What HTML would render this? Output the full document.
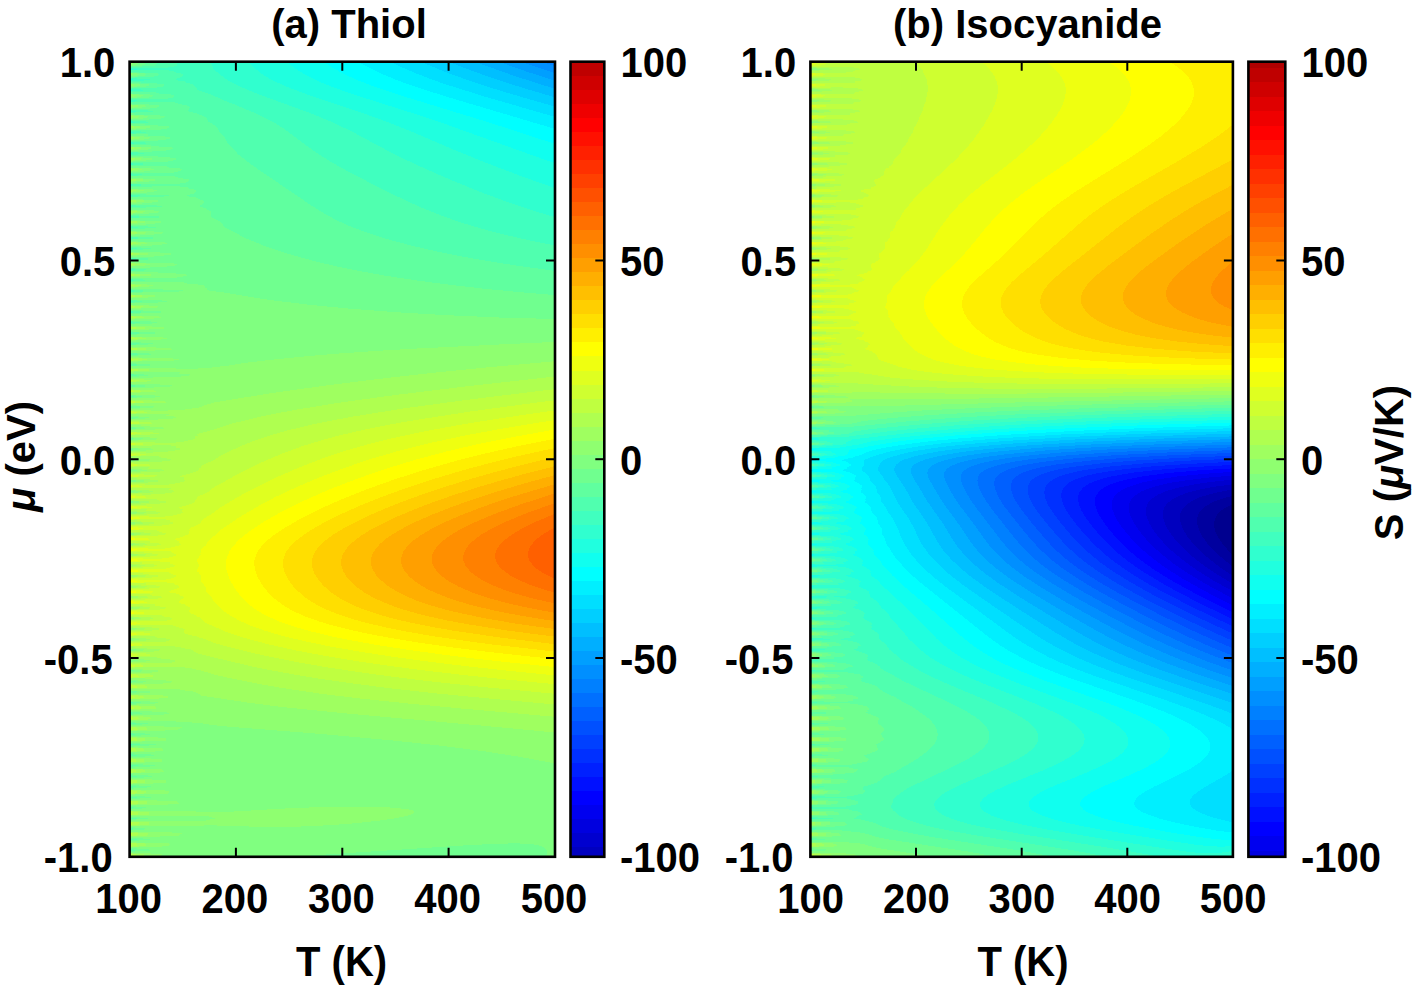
<!DOCTYPE html>
<html><head><meta charset="utf-8"><title>fig</title><style>html,body{margin:0;padding:0;background:#fff}svg{display:block}text{font-family:"Liberation Sans",sans-serif;font-weight:bold;fill:#000}</style></head><body>
<svg width="1419" height="991" viewBox="0 0 1419 991">
<rect width="1419" height="991" fill="#fff"/>
<g shape-rendering="crispEdges"><rect x="129.6" y="61.7" width="425.4" height="795.1" fill="#0080ff"/>
<path fill="#008fff" d="M129.6 61.7 541.5 61.7 555 66.2 555 856.8 129.6 856.8Z"/>
<path fill="#009fff" d="M129.6 61.7 520.9 61.7 555 73.2 555 856.8 129.6 856.8Z"/>
<path fill="#00afff" d="M129.6 61.7 498.6 61.7 527 71.7 555 80.8 555 856.8 129.6 856.8Z"/>
<path fill="#00bfff" d="M129.6 61.7 474.5 61.7 513.1 75.5 555 88.9 555 856.8 129.6 856.8Z"/>
<path fill="#00cfff" d="M129.6 61.7 448.5 61.7 471.1 70.5 495.1 79 521 87.3 555 97.4 555 856.8 129.6 856.8Z"/>
<path fill="#00dfff" d="M129.6 61.7 420.5 61.7 447.2 72.7 475.1 82.7 507.1 92.8 555 106.6 555 856.8 129.6 856.8Z"/>
<path fill="#00efff" d="M129.6 61.7 390.2 61.7 404.2 68.3 417.2 73.8 431.2 79.3 447.2 84.8 485.1 96.7 555 116.9 555 856.8 129.6 856.8Z"/>
<path fill="#00ffff" d="M129.6 61.7 357.8 61.7 371.3 68.9 384.1 74.9 399.2 81 415.2 86.7 447.2 96.9 555 128.9 555 856.8 129.6 856.8Z"/>
<path fill="#10ffef" d="M129.6 61.7 323.2 61.7 333.5 68.3 345.8 74.9 359.3 80.9 374.8 86.8 403.2 96.2 489.2 122.5 555 143.9 555 856.8 129.6 856.8Z"/>
<path fill="#20ffdf" d="M129.6 61.7 286.7 61.7 295.4 68.6 305.4 74.9 317.3 80.9 331.8 86.8 355.3 95 412.8 113.2 444.6 123.8 555 163.4 555 856.8 129.6 856.8Z"/>
<path fill="#30ffcf" d="M129.6 61.7 248.5 61.7 255.4 68.9 263.3 74.9 272.3 80.2 286.8 86.8 307.3 94.5 359.2 111.9 385.1 121.1 408.6 130.4 459.1 151.9 487.1 163.2 521 176.1 555 188.1 555 856.8 129.6 856.8Z"/>
<path fill="#40ffbf" d="M129.6 61.7 209.1 61.7 210.8 63 212.3 65.7 213.1 68.3 214.1 69.6 225.5 78.8 232.5 82.8 243.5 88.1 261.4 95.3 310.6 113.2 333 122.5 352.2 131.7 385.2 149.4 405.2 159.5 429.2 170.5 457.1 182.5 483.1 193 509.1 202.6 531 210 555 217.2 555 856.8 129.6 856.8 129.6 101.4 130.6 101.3 129.6 100.9 129.6 91 132.9 90.8 129.6 89.6 129.6 80.5 135.3 80.2 130.8 78.9 129.6 78.8 129.6 70 136.9 69.6 131.6 68.3 129.6 68.2Z"/>
<path fill="#50ffaf" d="M129.6 61.7 169 61.7 177.1 63 177.5 64.3 176.7 65.7 173.5 66.6 167.5 67.6 163.6 68 153.6 68.2 129.6 67.6ZM129.6 70.9 129.6 70.5 147.6 70.1 165.5 70.2 173.5 70.9 174.9 72.3 181.9 73.6 182.8 74.9 182.7 76.2 179.5 77.7 175.7 78.9 175.7 80.2 184.8 81.5 186.8 82.8 192.3 84.2 195.6 86.8 197.2 89.4 199.8 90.8 204.5 92.1 207.4 93.4 211.6 94.7 222.9 100 236.6 105.3 255.2 113.2 269 119.8 276.2 123.8 284.5 129.1 312.8 150.2 321.3 155.9 331.4 162.1 345.5 170 365.3 180.4 391.2 193.5 409.2 202.1 425.2 209.2 441.2 215.5 457.1 221.2 473.1 226.2 491.1 231.3 510.3 236 533 241.1 555 245.5 555 856.8 129.6 856.8 129.6 238.7 130.2 238.7 130.3 237.4 129.6 237.3 129.6 228.2 130.7 228.1 130.7 226.8 129.6 226.7 129.6 217.7 131 217.6 131 216.2 129.6 216.1 129.6 207.1 131.2 207 131.3 205.7 129.6 205.5 129.6 196.6 131.5 196.4 131.6 195.1 129.6 195 129.6 186 131.9 185.9 132 184.5 129.6 184.4 129.6 175.5 132.5 175.3 132.2 174 129.6 173.8 129.6 165 133.1 164.7 132.5 163.4 129.6 163.2 129.6 154.4 133.7 154.2 132.7 152.8 129.6 152.6 129.6 143.9 134.3 143.6 132.8 142.3 129.6 142 129.6 133.3 134.5 133 132.6 131.7 129.6 131.5 129.6 122.8 134.9 122.5 132.6 121.1 129.6 120.9 129.6 112.3 136.4 111.9 133.7 110.6 129.6 110.3 129.6 101.8 139.2 101.3 136 100 129.6 99.6 129.6 91.4 144.3 90.8 140.4 89.4 129.6 88.9 129.6 81 153.5 80.2 147 78.9 129.6 78.2Z"/>
<path fill="#60ff9f" d="M129.6 63 129.6 61.7 145.6 62.1 156.6 63 156.8 64.3 154.2 65.7 149.6 66.2 129.6 67ZM129.6 72.3 129.6 71.6 132.7 72.3 153.6 73 158.7 73.6 159.1 74.9 156.7 76.2 151.6 76.8 141.6 77.4 129.6 77.6ZM129.6 81.5 138.6 81.5 141.2 82.8 153.6 83.2 161.6 83.9 163.3 84.2 164.2 85.5 162.4 86.8 155.6 87.7 145.6 88.2 129.6 88.3ZM129.6 92.1 129.6 91.8 139.6 91.8 155.2 92.1 157.6 93.4 165.5 93.9 172.7 94.7 174.2 96 173.7 97.4 171.5 98 163.6 99.1 153.6 99.4 129.6 99.1ZM129.6 102.6 129.6 102.3 147.6 102 167.5 102 175.9 102.6 178.6 104 186.9 105.3 189 106.6 189.8 107.9 189.1 109.2 187.7 110.6 190.1 111.9 196.6 113.2 198.9 114.5 203.4 115.9 205.3 117.2 206.6 118.5 207.9 121.1 209.6 122.5 212.5 123.8 213.9 125.1 216.4 126.4 218.3 129.1 219.2 131.7 220.1 133 224.3 137 225.2 138.3 226.9 142.3 227.9 143.6 232.2 147.5 238.1 154.2 251.4 164.7 309.3 204.1 320 210.9 329.1 216.2 336.7 220.2 345.2 224.2 354.7 228.1 371.3 234.1 390.3 240 413.2 246 437.2 251.5 463.1 256.7 491.1 261.6 522.1 266.4 555 270.9 555 856.8 129.6 856.8 129.6 850.4 131.4 850.2 129.6 849.9 129.6 839.8 130.8 839.6 129.6 839.4 129.6 829.1 130.3 829.1 129.6 829 129.6 818.5 129.9 818.5 129.6 818.5 129.6 808 130.3 807.9 129.6 807.8 129.6 797.6 131 797.4 129.6 797.2 129.6 787 131.4 786.8 129.6 786.6 129.6 776.5 131.6 776.2 129.6 776 129.6 766 131.9 765.7 129.6 765.4 129.6 755.5 132 755.1 129.6 754.8 129.6 744.9 131.8 744.5 129.6 744.3 129.6 734.3 131.2 734 129.6 733.8 129.6 723.5 130.1 723.4 129.6 723.3 129.6 376.1 129.9 376 130 374.7 129.6 374.7 129.6 365.5 130.4 365.5 130.5 364.2 129.6 364.1 129.6 355 130.8 354.9 130.9 353.6 129.6 353.5 129.6 344.5 131.1 344.3 131.2 343 129.6 342.9 129.6 333.9 131.5 333.8 131.5 332.5 129.6 332.3 129.6 323.4 131.9 323.2 132 321.9 129.6 321.7 129.6 312.9 132.5 312.6 132.6 311.3 129.6 311.1 129.6 302.3 133.1 302.1 133.2 300.8 129.6 300.5 129.6 291.8 133.7 291.5 133.8 290.2 129.6 289.9 129.6 281.3 134.4 280.9 134.5 279.6 129.6 279.3 129.6 270.8 135.1 270.4 135.2 269.1 129.6 268.7 129.6 260.2 135.8 259.8 135.9 258.5 129.6 258.1 129.6 249.7 136.7 249.2 136.8 247.9 129.6 247.5 129.6 239.2 137.6 238.7 137.7 237.4 129.6 236.9 129.6 228.6 138.4 228.1 138.5 226.8 129.6 226.3 129.6 218.1 139 217.6 139.1 216.2 129.6 215.7 129.6 207.6 139.5 207 139.5 205.7 129.6 205.1 129.6 197 140 196.4 140.1 195.1 129.6 194.5 129.6 186.5 140.8 185.9 141 184.5 129.6 183.9 129.6 175.9 141.9 175.3 141.7 174 129.6 173.3 129.6 165.4 143.3 164.7 142.7 163.4 129.6 162.7 129.6 154.9 144.8 154.2 143.7 152.8 129.6 152.1 129.6 144.3 146.1 143.6 144.5 142.3 129.6 141.6 129.6 133.8 146.8 133 144.6 131.7 129.6 131 129.6 123.2 148 122.5 145.4 121.1 129.6 120.4 129.6 112.7 153.4 111.9 150.5 110.6 129.6 109.8Z"/>
<path fill="#70ff8f" d="M129.6 63 129.6 62.1 141.6 62.7 145.1 63 145.2 64.3 141.9 65.7 129.6 66.5ZM129.6 73.6 129.6 72.6 141.6 73.2 146.2 73.6 146.4 74.9 142.9 76.2 129.6 77.1ZM129.6 84.2 129.6 83.1 143.6 83.7 148.6 84.2 149 85.5 145.4 86.8 129.6 87.8ZM129.6 94.7 129.6 93.6 143.6 94 152.9 94.7 153.5 96 150 97.4 147.6 97.6 129.6 98.5ZM129.6 105.3 129.6 104 147.6 104.4 158.5 105.3 159.3 106.6 155.8 107.9 151.6 108.4 141.6 109 129.6 109.2ZM129.6 113.2 133.7 113.2 135.4 114.5 151.6 114.9 163.6 115.8 164.4 115.9 165 117.2 161.5 118.5 155.6 119.2 145.6 119.7 129.6 119.9ZM129.6 123.8 144.2 123.8 145 125.1 157.6 125.5 168.5 126.4 168.8 127.7 164.9 129.1 157.6 129.9 146.8 130.4 129.6 130.5ZM129.6 134.3 147.6 134.3 147.8 135.7 161.6 136.1 170.2 137 170.4 138.3 166.1 139.6 157.6 140.6 147.6 141 129.6 141.1ZM129.6 144.9 150.6 144.9 151.2 146.2 163.6 146.7 172.3 147.5 172.7 148.9 168.6 150.2 159.6 151.2 149.6 151.6 129.6 151.7ZM129.6 155.5 157.3 155.5 158.4 156.8 167.5 157.2 176.1 158.1 176.7 159.4 171.5 161.1 162.8 162.1 129.6 162.3ZM129.6 166 149.6 165.7 166.5 166 167.8 167.4 175.5 167.9 181.6 168.7 182.4 170 177.5 171.8 173 172.6 169.5 172.9 157.6 173.1 129.6 172.9ZM129.6 176.6 129.6 176.4 159.6 176.1 175.5 176.5 177 176.6 178.4 177.9 188.4 179.2 189.3 180.6 187.2 181.9 183.7 183.2 175.5 183.9 165.5 184 129.6 183.5ZM129.6 187.2 129.6 186.9 163.6 186.3 177.5 186.3 187.5 187.2 188.8 188.5 195.8 189.8 196.8 191.1 193.7 193.8 189.5 194.7 185.9 195.1 188.2 196.4 197.1 197.7 198.3 199.1 203.2 200.4 204.1 201.7 202.6 204.3 199.6 205.7 201 207 205.7 208.3 206.8 209.6 210.5 210.9 211.5 212.3 211.4 214.9 210.5 216.2 212 217.6 215.4 218.9 216.8 220.2 219.9 221.5 221.4 222.8 224.3 226.8 226.4 228.1 234.5 232.1 243.7 237.4 265.4 246.3 275.4 249.8 289.4 254.2 314.3 261.1 336.7 266.4 361.3 271.4 387.2 276 417.2 280.5 449.1 284.7 483.1 288.6 519.1 292.1 555 295.1 555 856.8 129.6 856.8 129.6 851 139 850.2 129.6 848.9 129.6 840.4 137.9 839.6 129.6 838.5 129.6 829.8 137.1 829.1 129.6 828.1 129.6 819.2 136.6 818.5 129.6 817.6 129.6 808.8 137.2 807.9 129.6 807 129.6 798.3 138.3 797.4 129.6 796.4 129.6 787.9 139 786.8 129.6 785.8 129.6 777.4 139.4 776.2 129.6 775.3 129.6 766.9 139.8 765.7 129.6 764.7 129.6 756.4 140 755.1 129.6 754.2 129.6 745.9 139.6 744.5 129.6 743.7 129.6 735.3 138.6 734 129.6 733.2 129.6 724.7 136.9 723.4 129.6 722.8 129.6 713.9 135.2 712.8 129.6 712.3 129.6 703.2 133.5 702.3 129.6 701.9 129.6 692.3 132 691.7 129.6 691.5 129.6 681.4 130.7 681.1 129.6 681 129.6 428.9 129.8 427.6 129.6 427.5 129.6 418.4 130.9 418.3 131.1 417 129.6 416.9 129.6 407.9 132.3 407.7 132.4 406.4 129.6 406.2 129.6 397.5 133.7 397.2 133.9 395.9 129.6 395.5 129.6 387 135.2 386.6 135.4 385.3 129.6 384.9 129.6 376.5 136.5 376 136.6 374.7 129.6 374.2 129.6 366 137.3 365.5 137.4 364.2 129.6 363.6 129.6 355.5 138 354.9 138.1 353.6 129.6 353 129.6 344.9 138.6 344.3 138.6 343 129.6 342.5 129.6 334.4 139.2 333.8 139.3 332.5 129.6 331.9 129.6 323.8 140 323.2 140.1 321.9 129.6 321.3 129.6 313.3 140.9 312.6 141.1 311.3 129.6 310.7 129.6 302.8 142.1 302.1 142.2 300.8 129.6 300 129.6 292.3 143.4 291.5 143.5 290.2 129.6 289.4 129.6 281.7 144.8 280.9 145 279.6 129.6 278.8 129.6 271.2 146.3 270.4 146.5 269.1 129.6 268.2 129.6 260.7 148.1 259.8 148.3 258.5 129.6 257.6 129.6 250.1 150.3 249.2 150.7 247.9 129.6 247 129.6 239.6 153 238.7 153.4 237.4 129.6 236.4 129.6 229.1 156 228.1 156.4 226.8 129.6 225.8 129.6 218.5 159.1 217.6 159.4 216.2 129.6 215.2 129.6 208 162.1 207 162.5 205.7 129.6 204.6 129.6 197.5 167.6 196.4 169 195.1 129.6 194.1Z"/>
<path fill="#80ff80" d="M129.6 63 129.6 62.4 137.7 63 137.8 64.3 134.1 65.7 129.6 66ZM129.6 73.6 129.6 73 138.5 73.6 138.6 74.9 134.6 76.2 129.6 76.6ZM129.6 84.2 129.6 83.5 139.9 84.2 140.2 85.5 135.9 86.8 129.6 87.3ZM129.6 94.7 129.6 93.9 142.4 94.7 142.8 96 138.3 97.4 129.6 98ZM129.6 105.3 129.6 104.4 143.6 105.1 145.3 105.3 145.7 106.6 140.8 107.9 129.6 108.7ZM129.6 115.9 129.6 114.9 143.6 115.5 148 115.9 148.3 117.2 142.8 118.5 129.6 119.4ZM129.6 126.4 129.6 125.4 143.6 125.9 149.6 126.4 149.7 127.7 143.6 129.1 129.6 129.9ZM129.6 137 129.6 135.9 143.6 136.5 150 137 150.1 138.3 143.5 139.6 129.6 140.5ZM129.6 147.5 129.6 146.5 143.6 147 150.7 147.5 150.8 148.9 143.8 150.2 129.6 151.1ZM129.6 158.1 129.6 157 145.6 157.6 151.9 158.1 152.1 159.4 144.7 160.8 129.6 161.7ZM129.6 168.7 129.6 167.6 145.6 168.1 153.5 168.7 153.7 170 143.6 171.5 129.6 172.3ZM129.6 179.2 129.6 178.1 145.6 178.6 155.2 179.2 155.4 180.6 145.6 182 129.6 182.9ZM129.6 189.8 129.6 188.6 147.6 189.1 156.8 189.8 157 191.1 145.6 192.7 129.6 193.5ZM129.6 200.4 129.6 199.2 147.6 199.6 158.2 200.4 158.4 201.7 145.6 203.3 129.6 204.1ZM129.6 210.9 129.6 209.7 147.6 210.1 159.4 210.9 159.5 212.3 145.6 213.9 129.6 214.7ZM129.6 221.5 129.6 220.3 149.6 220.7 160.8 221.5 161 222.8 145.6 224.6 129.6 225.3ZM129.6 232.1 129.6 230.8 149.6 231.2 162.9 232.1 163.3 233.4 147.6 235.2 129.6 235.9ZM129.6 242.6 129.6 241.4 151.6 241.7 166.2 242.6 166.7 244 149.6 245.8 129.6 246.5ZM129.6 253.2 129.6 251.9 155.6 252.2 170.8 253.2 171.4 254.5 165.5 255.4 151.6 256.7 129.6 257.2ZM129.6 261.1 137.5 261.1 139.6 262.5 159.6 262.7 173.5 263.4 177 263.8 177.9 265.1 171.5 266.1 157.6 267.4 129.6 267.8ZM129.6 271.7 156.5 271.7 159.3 273 175.5 273.5 185.9 274.3 187.4 275.7 172 278.3 129.6 278.4ZM129.6 282.3 167.5 282 183.5 282.3 187.8 283.6 202.5 284.9 205.7 286.2 204.8 287.6 207.7 288.9 206.3 290.2 226.3 292.8 257.2 298.1 279.4 301.2 313.3 305.2 351.3 308.8 397.2 312.3 447.2 315.2 499.1 317.5 555 319 555 856.8 545.9 856.8 547.1 852.8 546.5 850.2 545.6 848.9 544.1 847.6 541 846 537 844.9 531 844 515.1 843.3 493.1 843.9 461.1 845.6 290.8 856.8 129.6 856.8 129.6 851.9 154.4 850.2 144.5 848.9 129.6 848.1 129.6 841.2 151.2 839.6 141.2 838.3 129.6 837.6 129.6 830.6 149.1 829.1 139.6 827.8 129.6 827.2 129.6 820 148.1 818.5 139.6 817.4 129.6 816.7 129.6 809.6 149.4 807.9 141.6 806.9 129.6 806.1 129.6 799.2 143.6 798.3 152 797.4 143.6 796.4 129.6 795.4 129.6 788.8 143.6 787.9 153.8 786.8 145.6 785.9 129.6 784.9 129.6 778.3 143.6 777.5 155.2 776.2 145.6 775.3 129.6 774.3 129.6 767.8 145.2 767 156.6 765.7 147.6 764.8 129.6 763.7 129.6 757.3 146.7 756.4 157.1 755.1 147.6 754.2 129.6 753.2 129.6 746.7 146.6 745.9 155.8 744.5 129.6 742.8 129.6 736.1 144.6 735.3 152.7 734 129.6 732.5 129.6 725.4 141.4 724.7 148.6 723.4 129.6 722.2 129.6 714.7 138.4 714.2 145 712.8 129.6 711.8 129.6 704.1 136 703.6 141.9 702.3 129.6 701.4 129.6 693.4 134 693 139.4 691.7 129.6 691 129.6 682.7 132.3 682.5 137.2 681.1 129.6 680.5 129.6 672 134.8 670.6 129.6 670.1 129.6 661 132.5 660 129.6 659.8 129.6 649.7 130.2 649.4 129.6 649.4 129.6 481.7 129.8 481.7 130 480.4 129.6 480.3 129.6 471.3 130.9 471.1 131.1 469.8 129.6 469.7 129.6 460.8 132 460.6 132.1 459.2 129.6 459 129.6 450.3 133 450 133.2 448.7 129.6 448.4 129.6 439.8 134.2 439.4 134.4 438.1 129.6 437.7 129.6 429.3 135.7 428.9 135.9 427.6 129.6 427.1 129.6 418.9 137.6 418.3 137.8 417 129.6 416.4 129.6 408.4 139.8 407.7 140.1 406.4 129.6 405.7 129.6 397.9 142.3 397.2 142.6 395.9 129.6 395.1 129.6 387.5 145.1 386.6 145.4 385.3 129.6 384.4 129.6 377 147.7 376 147.9 374.7 129.6 373.8 129.6 366.4 149.6 365.5 149.8 364.2 129.6 363.2 129.6 355.9 151.2 354.9 151.4 353.6 129.6 352.6 129.6 345.4 152.8 344.3 153 343 129.6 342 129.6 334.8 154.6 333.8 154.8 332.5 143.6 331.8 129.6 331.4 129.6 324.3 145.6 323.9 157 323.2 157.4 321.9 145.6 321.2 129.6 320.8 129.6 313.8 147.6 313.3 160.7 312.6 161.2 311.3 147.6 310.6 129.6 310.2 129.6 303.2 151.6 302.8 166.4 302.1 167.4 300.8 151.6 300 129.6 299.6 129.6 292.7 155.6 292.3 179.4 291.5 183.7 290.2 159.6 289.4 129.6 289Z"/>
<path fill="#8fff70" d="M129.6 63 129.6 62.8 132.5 63 132.5 64.3 129.6 65.4ZM129.6 73.6 129.6 73.3 133 73.6 133.1 74.9 129.6 76ZM129.6 84.2 129.6 83.8 134 84.2 134.2 85.5 129.6 86.8ZM129.6 94.7 129.6 94.3 135.7 94.7 135.9 96 129.6 97.5ZM129.6 105.3 129.6 104.7 137.5 105.3 137.8 106.6 132.3 107.9 129.6 108.2ZM129.6 115.9 129.6 115.2 139.1 115.9 139.3 117.2 133.3 118.5 129.6 118.8ZM129.6 126.4 129.6 125.7 140 126.4 140.1 127.7 133.4 129.1 129.6 129.4ZM129.6 137 129.6 136.3 140.2 137 140.2 138.3 133.6 139.5 129.6 139.9ZM129.6 147.5 129.6 146.8 140.6 147.5 140.6 148.9 133.6 150.1 129.6 150.5ZM129.6 158.1 129.6 157.4 141.2 158.1 141.3 159.4 135.6 160.4 129.6 161ZM129.6 168.7 129.6 167.9 142 168.7 142.1 170 129.6 171.6ZM129.6 179.2 129.6 178.5 142.8 179.2 142.9 180.6 129.6 182.2ZM129.6 189.8 129.6 189 143.5 189.8 143.6 191.1 129.6 192.8ZM129.6 200.4 129.6 199.5 144.2 200.4 144.2 201.7 129.6 203.3ZM129.6 210.9 129.6 210.1 144.6 210.9 144.7 212.3 129.6 213.9ZM129.6 221.5 129.6 220.6 145.1 221.5 145.2 222.8 129.6 224.4ZM129.6 232.1 129.6 231.2 143.6 231.9 145.9 232.1 146.1 233.4 129.6 235ZM129.6 242.6 129.6 241.7 143.6 242.4 147 242.6 147.2 244 129.6 245.5ZM129.6 253.2 129.6 252.3 145.6 253 148.3 253.2 148.5 254.5 129.6 256.1ZM129.6 263.8 129.6 262.8 145.6 263.5 149.8 263.8 149.9 265.1 129.6 266.7ZM129.6 274.3 129.6 273.3 145.6 273.9 151.3 274.3 151.4 275.7 129.6 277.3ZM129.6 284.9 129.6 283.9 145.6 284.4 153 284.9 153.2 286.2 129.6 287.9ZM129.6 295.5 129.6 294.4 147.6 295 155.1 295.5 155.3 296.8 147.6 297.5 129.6 298.5ZM129.6 306 129.6 304.9 147.6 305.4 157.5 306 157.8 307.4 149.6 308.1 129.6 309.1ZM129.6 316.6 129.6 315.5 149.6 315.9 160.4 316.6 160.7 317.9 151.6 318.7 129.6 319.7ZM129.6 327.2 129.6 326 151.6 326.5 163.5 327.2 163.9 328.5 153.6 329.3 129.6 330.3ZM129.6 337.7 129.6 336.5 153.6 337 167.1 337.7 167.5 339.1 155.6 339.9 137.2 340.4 129.6 340.9ZM529.9 343 555 342 555 763.4 517.2 756.4 482.9 751.1 442.4 745.9 394.2 740.6 321.6 734 227.5 726.6 213.5 725.2 202.6 723.4 193.5 722.6 164.7 720.8 129.6 720.7 129.6 715.5 147.6 715.3 159.6 714.9 166.8 714.2 170.3 712.8 159.6 711.9 129.6 710.4 129.6 704.8 151.6 703.9 154.5 703.6 159 702.3 149.6 701.5 129.6 700.5 129.6 694 148 693 152.5 691.7 141.6 690.9 129.6 690.4 129.6 683.3 143.5 682.5 147.7 681.1 129.6 680 129.6 672.6 139.6 671.9 143.4 670.6 129.6 669.7 129.6 661.8 136.1 661.3 139.5 660 129.6 659.3 129.6 651.1 133 650.8 136 649.4 129.6 648.9 129.6 640.3 130.4 640.2 133.2 638.9 129.6 638.6 129.6 629.1 131.1 628.3 129.6 628.2 129.6 524 130 524 130.2 522.6 129.6 522.6 129.6 513.6 131.3 513.4 131.4 512.1 129.6 511.9 129.6 503.1 132.6 502.8 132.8 501.5 129.6 501.2 129.6 492.6 134 492.3 134.2 490.9 129.6 490.6 129.6 482.2 135.5 481.7 135.7 480.4 129.6 479.9 129.6 471.7 137.1 471.1 137.3 469.8 129.6 469.2 129.6 461.2 138.8 460.6 139 459.2 129.6 458.6 129.6 450.7 140.4 450 140.6 448.7 129.6 447.9 129.6 440.2 142.3 439.4 142.6 438.1 129.6 437.3 129.6 429.8 145 428.9 145.3 427.6 129.6 426.6 129.6 419.3 148.5 418.3 149 417 129.6 416 129.6 408.8 143.6 408.4 153.2 407.7 153.9 406.4 143.6 405.7 129.6 405.3 129.6 398.4 145.6 398 157.6 397.4 159.9 397.2 161 395.9 147.6 395 129.6 394.6 129.6 387.9 149.6 387.7 163.6 387.1 170.3 386.6 171.9 385.3 157.6 384.3 129.6 384 129.6 377.6 149.6 377.6 175.5 376.9 188 376 191.1 374.7 185.5 373.9 177.6 373.4 180.9 372.1 144.3 372.1 129.6 372.7 129.6 367.4 145.8 368.1 183.5 368.6 197.5 368.5 207.2 368.1 228.6 365.5 245.6 362.8 269.4 360 301.4 356.7 335.3 353.8 373.3 351.1 417.2 348.5ZM129.6 348.3 129.6 347 155.6 347.5 171.4 348.3 172 349.6 159.6 350.4 137.3 350.9 129.6 351.4ZM129.6 357.6 129.6 357.3 153.6 357.8 171.5 358.4 178.5 358.9 179.9 360.2 165.5 361 138.1 361.5 129.6 362ZM129.6 727.4 129.6 726.1 163.6 726.5 181.8 727.4 179.5 728.7 176.4 730 157.6 730.8 129.6 731.2ZM129.6 737.9 129.6 736.8 151.6 737.2 165.5 737.9 166.2 739.3 165.5 740.6 163.6 740.7 149.6 741.4 129.6 741.7ZM129.6 748.5 129.6 747.3 149.6 747.8 161.9 748.5 162.8 749.8 162.6 751.1 161.6 751.2 147.6 751.9 129.6 752.3ZM129.6 759.1 129.6 757.9 147.6 758.3 161.5 759.1 162.4 760.4 162.5 761.7 149.6 762.4 129.6 762.9ZM129.6 769.6 129.6 768.5 147.6 768.8 161.6 769.5 163.1 769.6 164 772.3 149.6 773.1 129.6 773.4ZM129.6 780.2 129.6 779 149.6 779.4 163.6 780 165.5 780.2 166.2 782.8 151.6 783.6 129.6 784ZM129.6 790.8 129.6 789.6 151.6 789.9 165.5 790.5 168.7 790.8 169.9 793.4 153.6 794.2 129.6 794.6ZM129.6 801.3 129.6 800.1 153.6 800.4 171.5 801 176.3 801.3 180.1 804 161.6 804.8 129.6 805.2ZM295.9 807.9 333.3 806.8 365.3 806.7 393.2 807.6 408.5 809.3 413.3 810.6 414.7 811.9 413.8 813.2 411 814.5 406.8 815.9 393.9 818.5 375.3 821.1 349.1 823.8 331.1 825.1 307.3 826.3 291.4 826.8 261.4 826.9 213.5 825.4 129.6 826.4 129.6 821.2 201.5 821.2 203.7 821.1 214.6 818.5 207.5 816 201.5 815.6 129.6 815.8 129.6 810.6 167.5 810.9 219.5 812 237.4 811.4 269.7 809.3ZM129.6 833 129.6 831.8 163.6 832.1 183.2 833 178.2 835.7 157.6 836.6 129.6 836.9ZM129.6 843.6 129.6 842.4 155.6 842.8 170.9 843.6 169.8 844.9 167.5 846.2 151.6 847.1 129.6 847.4ZM129.6 854.2 129.6 853 149.6 853.4 162.2 854.2 161.1 855.5 158.5 856.8 129.6 856.8Z"/>
<path fill="#9fff60" d="M129.6 94.7 130.8 94.7 131 96 129.6 96.4ZM129.6 105.3 129.6 105.1 132.1 105.3 132.3 106.6 129.6 107.3ZM129.6 115.9 129.6 115.6 133.2 115.9 133.3 117.2 129.6 118ZM129.6 126.4 129.6 126.1 133.8 126.4 133.8 127.7 129.6 128.6ZM129.6 137 129.6 136.7 133.9 137 133.9 138.3 129.6 139.1ZM129.6 147.5 129.6 147.2 134.2 147.5 134.2 148.9 129.6 149.7ZM129.6 158.1 129.6 157.7 134.6 158.1 134.7 159.4 129.6 160.3ZM129.6 168.7 129.6 168.3 135.1 168.7 135.2 170 129.6 170.9ZM129.6 179.2 129.6 178.8 135.6 179.2 135.6 180.6 129.6 181.5ZM129.6 189.8 129.6 189.4 136 189.8 136.1 191.1 129.6 192ZM129.6 200.4 129.6 199.9 136.4 200.4 136.5 201.7 129.6 202.6ZM129.6 210.9 129.6 210.5 136.7 210.9 136.7 212.3 129.6 213.2ZM129.6 221.5 129.6 221 137 221.5 137 222.8 129.6 223.7ZM129.6 232.1 129.6 231.5 137.4 232.1 137.5 233.4 129.6 234.3ZM129.6 242.6 129.6 242.1 138 242.6 138.1 244 129.6 244.9ZM129.6 253.2 129.6 252.6 138.8 253.2 138.8 254.5 129.6 255.5ZM129.6 263.8 129.6 263.2 139.5 263.8 139.6 265.1 129.6 266ZM129.6 274.3 129.6 273.7 140.2 274.3 140.3 275.7 129.6 276.6ZM129.6 284.9 129.6 284.2 141 284.9 141.1 286.2 129.6 287.2ZM129.6 295.5 129.6 294.8 141.9 295.5 142 296.8 129.6 297.8ZM129.6 306 129.6 305.3 142.8 306 143 307.4 129.6 308.3ZM129.6 316.6 129.6 315.8 143.8 316.6 143.9 317.9 129.6 318.9ZM129.6 327.2 129.6 326.4 144.7 327.2 144.9 328.5 129.6 329.5ZM129.6 337.7 129.6 336.9 145.6 337.7 145.7 339.1 129.6 340ZM129.6 348.3 129.6 347.4 145.6 348.2 146.4 348.3 146.5 349.6 129.6 350.6ZM129.6 358.9 129.6 357.9 143.6 358.6 147.3 358.9 147.4 360.2 129.6 361.2ZM552.1 361.5 555 361.3 555 732.5 486.1 726 345.3 713.4 281.4 706.9 251.4 703.1 201.7 695.7 197.3 693 194.3 691.7 184.4 690.4 177.8 689.1 163.6 688.7 129.6 688.9 129.6 683.9 161.6 683.7 171 682.5 171.8 681.1 163.6 680.3 155.1 679.8 145.2 678.5 129.6 678.4 129.6 673.2 151.6 672.5 157.3 671.9 159.3 670.6 149.6 669.7 135.4 669.3 129.6 668.6 129.6 662.5 147.6 661.4 148.5 661.3 150.9 660 141.6 659.3 129.6 658.8 129.6 651.6 142.2 650.8 144.7 649.4 129.6 648.5 129.6 640.8 137.7 640.2 140.1 638.9 129.6 638.1 129.6 630.1 134.8 629.6 137 628.3 129.6 627.7 129.6 619.4 133 619.1 135 617.7 129.6 617.3 129.6 608.7 132 608.5 133.8 607.2 129.6 606.8 129.6 598.1 131.5 597.9 133 596.6 129.6 596.3 129.6 587.5 131.2 587.4 132.3 586 129.6 585.8 129.6 576.9 131 576.8 131.8 575.5 129.6 575.3 129.6 566.4 131 566.2 131.6 564.9 129.6 564.7 129.6 555.8 131.4 555.7 131.8 554.3 129.6 554.1 129.6 545.4 132.5 545.1 132.7 543.8 129.6 543.5 129.6 534.9 133.8 534.5 134 533.2 129.6 532.8 129.6 524.4 135.4 524 135.7 522.6 129.6 522.1 129.6 514 137.3 513.4 137.5 512.1 129.6 511.5 129.6 503.5 139.2 502.8 139.5 501.5 129.6 500.8 129.6 493.1 141.4 492.3 141.6 490.9 129.6 490.1 129.6 482.6 143.8 481.7 144.1 480.4 129.6 479.4 129.6 472.1 146.5 471.1 146.8 469.8 129.6 468.8 129.6 461.7 141.6 461.2 149.4 460.6 149.7 459.2 141.6 458.6 129.6 458.1 129.6 451.2 143.6 450.7 152.6 450 153.1 448.7 143.6 447.9 129.6 447.5 129.6 440.7 143.6 440.4 153.6 439.8 156.8 439.4 157.4 438.1 145.6 437.2 129.6 436.8 129.6 430.2 145.6 430 157.6 429.4 163.4 428.9 164.5 427.6 153.6 426.6 139.6 426.2 142.2 424.9 129.6 424.9 129.6 420 145.6 420 165.5 419.2 174.7 418.3 176.7 417 171.5 416.1 165.2 415.7 169.3 414.3 157.6 414.1 129.6 414.2 129.6 409.9 141.5 410.4 159.6 410.6 178.8 410.4 197.9 407.7 202.3 406.4 204.3 405.1 210.5 403.8 214.5 402.5 222.2 401.1 273.4 392.8 323.3 385.9 377.3 379.1 435.2 372.6 489.1 367.2ZM129.6 369.4 129.6 368.4 143.6 369.1 148.6 369.4 148.8 370.8 129.6 371.7ZM129.6 380 129.6 378.9 143.6 379.5 150.8 380 151.2 381.3 129.6 382.3ZM129.6 390.6 129.6 389.4 145.6 389.9 155.1 390.6 155.8 391.9 129.6 392.9ZM129.6 401.1 129.6 399.8 147.6 400.3 164.1 401.1 166.1 402.5 149.6 403.2 129.6 403.6ZM129.6 695.7 129.6 694.6 153.6 695.1 167.1 695.7 168.7 697 166.1 698.3 129.6 699.4ZM129.6 706.2 129.6 705.2 147.6 705.8 154.4 706.2 156.4 707.6 155.5 708.9 129.6 709.9ZM129.6 716.8 129.6 715.9 145.6 716.6 149 716.8 150.8 718.1 150.3 719.4 129.6 720.4ZM129.6 727.4 129.6 726.5 143.6 727.2 145.8 727.4 147.3 728.7 147 730 129.6 730.9ZM129.6 737.9 129.6 737.1 144 737.9 145.3 739.3 145.1 740.6 129.6 741.4ZM129.6 748.5 129.6 747.7 143.4 748.5 144.5 749.8 144.4 751.1 129.6 751.9ZM129.6 759.1 129.6 758.3 143.6 759.1 144.4 760.4 144.4 761.7 129.6 762.5ZM129.6 769.6 129.6 768.8 144.3 769.6 144.8 771 144.9 772.3 129.6 773.1ZM129.6 780.2 129.6 779.4 145.1 780.2 145.4 782.8 129.6 783.7ZM129.6 790.8 129.6 789.9 145.9 790.8 146.1 793.4 129.6 794.3ZM129.6 801.3 129.6 800.5 147.1 801.3 147.5 804 129.6 804.9ZM129.6 811.9 129.6 811 148.9 811.9 148.9 814.5 129.6 815.5ZM129.6 822.5 129.6 821.5 149.2 822.5 149.1 823.8 148.4 825.1 129.6 826ZM129.6 833 129.6 832.1 147.9 833 147.7 834.3 146.6 835.7 129.6 836.5ZM129.6 843.6 129.6 842.7 146.5 843.6 146.3 844.9 144.9 846.2 129.6 847ZM129.6 854.2 129.6 853.3 144.6 854.2 144.2 855.5 142.3 856.8 129.6 856.8Z"/>
<path fill="#afff50" d="M129.6 158.1 129.8 159.4 129.6 159.5ZM129.6 168.7 130.2 168.7 130.2 170 129.6 170.1ZM129.6 179.2 130.6 179.2 130.6 180.6 129.6 180.7ZM129.6 189.8 130.9 189.8 130.9 191.1 129.6 191.3ZM129.6 200.4 131.1 200.4 131.1 201.7 129.6 201.9ZM129.6 210.9 131.3 210.9 131.3 212.3 129.6 212.5ZM129.6 221.5 131.5 221.5 131.5 222.8 129.6 223.1ZM129.6 232.1 131.8 232.1 131.8 233.4 129.6 233.7ZM129.6 242.6 129.6 242.4 132.2 242.6 132.3 244 129.6 244.3ZM129.6 253.2 129.6 253 132.7 253.2 132.8 254.5 129.6 254.9ZM129.6 263.8 129.6 263.5 133.2 263.8 133.2 265.1 129.6 265.5ZM129.6 274.3 129.6 274 133.6 274.3 133.7 275.7 129.6 276.1ZM129.6 284.9 129.6 284.6 134.1 284.9 134.2 286.2 129.6 286.7ZM129.6 295.5 129.6 295.1 134.7 295.5 134.7 296.8 129.6 297.3ZM129.6 306 129.6 305.6 135.2 306 135.3 307.4 129.6 307.9ZM129.6 316.6 129.6 316.2 135.8 316.6 135.8 317.9 129.6 318.5ZM129.6 327.2 129.6 326.7 136.3 327.2 136.4 328.5 129.6 329ZM129.6 337.7 129.6 337.2 136.8 337.7 136.8 339.1 129.6 339.6ZM129.6 348.3 129.6 347.8 137.2 348.3 137.3 349.6 129.6 350.2ZM129.6 358.9 129.6 358.3 137.6 358.9 137.7 360.2 129.6 360.8ZM129.6 369.4 129.6 368.8 138.3 369.4 138.4 370.8 129.6 371.4ZM547.3 377.4 555 376.6 555 716.8 459.1 708.3 405.2 703.2 357.3 698.2 319.3 693.5 283.4 688.2 253.4 682.9 215.5 675 201.6 670.6 194.6 669.3 189.5 667.9 181.5 667.2 171.5 666.9 129.6 667.6 129.6 663 165.5 663.2 172.1 662.6 175.7 661.3 174.7 660 161.7 658.7 156.8 657.4 129.6 657.2 129.6 652.2 143.6 652.1 153.6 651.5 158.8 650.8 159.6 649.4 149.6 648.6 136.9 648.1 131.8 646.8 129.6 646.8 129.6 641.4 139.6 641.1 147.6 640.4 149.3 640.2 150.8 638.9 141.6 638.1 129.6 637.7 129.6 630.6 143.8 629.6 145.5 628.3 129.6 627.3 129.6 619.9 140.7 619.1 142.3 617.7 129.6 616.9 129.6 609.2 139 608.5 140.5 607.2 129.6 606.4 129.6 598.6 138 597.9 139.3 596.6 129.6 595.9 129.6 588 137.4 587.4 138.4 586 129.6 585.3 129.6 577.4 136.9 576.8 137.7 575.5 129.6 574.8 129.6 566.8 136.8 566.2 137.3 564.9 129.6 564.3 129.6 556.3 137.2 555.7 137.7 554.3 129.6 553.7 129.6 545.8 138.6 545.1 138.9 543.8 129.6 543 129.6 535.3 140.5 534.5 140.8 533.2 129.6 532.4 129.6 524.9 143 524 143.3 522.6 129.6 521.7 129.6 514.4 145.8 513.4 146.2 512.1 129.6 511 129.6 504 139.6 503.6 149 502.8 149.4 501.5 141.6 500.8 129.6 500.3 129.6 493.5 141.6 493.2 151.6 492.4 152.9 492.3 153.4 490.9 143.6 490.1 129.6 489.7 129.6 483.1 143.6 482.8 153.6 482.1 157.5 481.7 158.2 480.4 149.6 479.5 136.7 479.1 138.1 477.7 129.6 477.7 129.6 472.7 147.6 472.4 157.6 471.8 163.2 471.1 164 469.8 157.6 469 148.1 468.5 149.6 467.2 129.6 467 129.6 462.4 147.6 462.4 161.6 461.6 170.2 460.6 171.2 459.2 165.5 458.3 160.7 457.9 162.4 456.6 151.6 456.3 129.6 456.4 129.6 452.1 149.6 452.6 161.6 452.3 179.3 450 180.7 448.7 175.2 447.4 177.2 446 171.5 445.5 159.6 445.4 129.6 445.8 129.6 441.8 165.5 442.8 173.5 442.7 181.3 442.1 193 439.4 195.2 438.1 194.7 436.8 197.7 435.5 196.8 434.2 216.2 428.9 223.4 426.2 231.9 423.6 263.4 416 295.4 409.8 339.3 402.7 395.2 395 469.1 386ZM129.6 380 129.6 379.3 139.2 380 139.4 381.3 129.6 381.9ZM129.6 390.6 129.6 389.8 140.9 390.6 141.2 391.9 129.6 392.6ZM129.6 401.1 129.6 400.3 143.2 401.1 143.6 402.5 129.6 403.2ZM129.6 411.7 129.6 410.7 143.6 411.5 146.5 411.7 146.9 413 129.6 413.8ZM129.6 422.3 129.6 421.1 143.6 421.7 151 422.3 151.7 423.6 129.6 424.5ZM129.6 432.8 129.6 431.5 143.6 432 158.6 432.8 160.1 434.2 129.6 435.1ZM129.6 674.5 129.6 673.7 145.6 674.3 149.9 674.5 153.7 675.9 152.7 677.2 129.6 678.1ZM129.6 685.1 129.6 684.4 144.2 685.1 147.5 686.4 147 687.7 129.6 688.6ZM129.6 695.7 129.6 695 141.2 695.7 144 697 143.6 698.3 129.6 699ZM129.6 706.2 129.6 705.7 139 706.2 141.4 707.6 141.1 708.9 129.6 709.5ZM129.6 716.8 129.6 716.3 137.2 716.8 139.3 718.1 139 719.4 129.6 720ZM129.6 727.4 129.6 726.9 136 727.4 137.6 728.7 137.5 730 129.6 730.5ZM129.6 737.9 129.6 737.5 135.2 737.9 136.6 739.3 136.5 740.6 129.6 741ZM129.6 748.5 129.6 748.1 135.1 748.5 136.1 749.8 136.1 751.1 129.6 751.6ZM129.6 759.1 129.6 758.7 135.3 759.1 136.1 760.4 136.1 761.7 129.6 762.1ZM129.6 769.6 129.6 769.2 135.8 769.6 136.3 771 136.4 772.3 129.6 772.7ZM129.6 780.2 129.6 779.7 136.5 780.2 136.7 782.8 129.6 783.3ZM129.6 790.8 129.6 790.3 136.9 790.8 137 793.4 129.6 793.9ZM129.6 801.3 129.6 800.8 137.5 801.3 137.8 804 129.6 804.5ZM129.6 811.9 129.6 811.3 138.5 811.9 138.4 814.5 129.6 815.1ZM129.6 822.5 129.6 821.9 138.6 822.5 138.6 823.8 137.9 825.1 129.6 825.6ZM129.6 833 129.6 832.5 137.9 833 137.8 834.3 136.9 835.7 129.6 836.1ZM129.6 843.6 129.6 843.1 137.2 843.6 137.2 844.9 135.8 846.2 129.6 846.7ZM129.6 854.2 129.6 853.7 136.3 854.2 136.1 855.5 134.3 856.8 129.6 856.8Z"/>
<path fill="#bfff40" d="M129.6 306 130.1 306 130.1 307.4 129.6 307.4ZM129.6 316.6 130.5 316.6 130.5 317.9 129.6 318ZM129.6 327.2 130.8 327.2 130.9 328.5 129.6 328.6ZM129.6 337.7 131.1 337.7 131.2 339.1 129.6 339.2ZM129.6 348.3 131.4 348.3 131.4 349.6 129.6 349.8ZM129.6 358.9 131.7 358.9 131.7 360.2 129.6 360.4ZM129.6 369.4 129.6 369.2 132.1 369.4 132.2 370.8 129.6 371ZM129.6 380 129.6 379.7 132.7 380 132.8 381.3 129.6 381.6ZM554.3 389.2 555 389.2 555 704.5 491.1 698.7 437.2 693.5 391.2 688.4 351.3 683.3 323.3 679.3 299.4 675.4 275.4 671.1 251.4 666.3 202.2 654.7 197.7 653.4 193.3 650.8 190.3 649.4 183.1 648.1 179.2 646.8 171.5 646.2 163.6 645.9 129.6 646.4 129.6 641.9 159.6 642.1 165.7 641.5 170.5 640.2 169.9 638.9 157.2 637.6 154.7 636.2 129.6 636 129.6 631.2 143.6 631 151.6 630.6 158.7 629.6 159.3 628.3 151.6 627.5 140.7 627 139.1 625.7 129.6 625.6 129.6 620.4 141.6 620.1 149.6 619.5 152.4 619.1 153.4 617.7 143.6 616.8 130.4 616.4 129.6 615.3 129.6 609.8 139.6 609.4 147.6 608.7 149.2 608.5 150.3 607.2 141.6 606.4 129.6 605.9 129.6 599.1 139.6 598.7 147.4 597.9 148.3 596.6 139.6 595.8 129.6 595.4 129.6 588.5 139.6 588 146.1 587.4 146.9 586 139.6 585.4 129.6 584.9 129.6 577.9 145.2 576.8 145.8 575.5 129.6 574.4 129.6 567.3 144.8 566.2 145.3 564.9 129.6 563.8 129.6 556.7 145.3 555.7 145.8 554.3 129.6 553.2 129.6 546.3 139.6 545.8 147.3 545.1 147.6 543.8 139.6 543 129.6 542.6 129.6 535.8 141.6 535.3 149.6 534.6 150.2 534.5 150.7 533.2 141.6 532.3 129.6 531.9 129.6 525.4 141.6 525 151.6 524.3 154.3 524 154.8 522.6 147.6 521.8 136.2 521.3 137.3 520 129.6 519.9 129.6 515 145.6 514.6 153.6 514.1 159.3 513.4 160 512.1 153.6 511.2 145.8 510.8 147.1 509.4 129.6 509.3 129.6 504.7 145.6 504.5 157.6 503.8 165.5 502.8 166.4 501.5 156.6 500.2 158.1 498.9 147.6 498.6 129.6 498.6 129.6 494.3 147.6 494.6 157.6 494.3 167.5 493.2 173.5 492.3 174.7 490.9 169.1 489.6 170.8 488.3 165.5 487.8 153.6 487.6 129.6 488 129.6 484 153.6 484.8 165.5 484.8 171.6 484.3 184 481.7 185.5 480.4 183.3 479.1 185.2 477.7 179.5 476.4 182.8 475.1 189.6 473.8 197.1 471.1 199 469.8 199.2 468.5 201.3 467.2 201.3 465.9 203.7 464.5 213.1 460.6 221.1 455.3 237.9 447.4 251.4 441.8 269.9 435.5 288.5 430.2 310.5 424.9 331.3 420.6 353.3 416.5 405.2 408.2 471.1 399.3ZM129.6 390.6 129.6 390.2 133.7 390.6 133.9 391.9 129.6 392.2ZM129.6 401.1 129.6 400.7 135 401.1 135.2 402.5 129.6 402.8ZM129.6 411.7 129.6 411.1 136.7 411.7 136.9 413 129.6 413.5ZM129.6 422.3 129.6 421.6 138.6 422.3 138.8 423.6 129.6 424.1ZM129.6 432.8 129.6 432 140.8 432.8 141.1 434.2 129.6 434.8ZM129.6 443.4 129.6 442.5 143.2 443.4 143.5 444.7 129.6 445.4ZM129.6 454 129.6 452.9 141.6 453.6 145.8 454 146.2 455.3 129.6 456ZM129.6 464.5 129.6 463.3 141.6 463.9 149.5 464.5 150.2 465.9 129.6 466.7ZM129.6 473.8 156.8 475.1 158.5 476.4 129.6 477.3ZM129.6 653.4 129.6 652.7 145.3 653.4 150.7 654.7 149.3 656 129.6 656.8ZM129.6 664 129.6 663.4 138.9 664 143.3 665.3 142.7 666.6 129.6 667.3ZM129.6 674.5 129.6 674.1 135.6 674.5 139.5 675.9 139.1 677.2 129.6 677.7ZM129.6 685.1 129.6 684.8 133.7 685.1 137.2 686.4 136.9 687.7 129.6 688.2ZM129.6 695.7 129.6 695.5 132.5 695.7 135.4 697 135.3 698.3 129.6 698.7ZM129.6 706.2 131.5 706.2 134 707.6 133.8 708.9 129.6 709.2ZM129.6 716.8 130.6 716.8 132.7 718.1 132.6 719.4 129.6 719.7ZM129.6 727.4 131.7 728.7 131.6 730 129.6 730.2ZM129.6 739.3 129.6 738 131 739.3 130.9 740.6 129.6 740.7ZM129.6 749.8 129.6 748.5 130.7 749.8 130.7 751.1 129.6 751.2ZM129.6 759.1 129.9 759.1 130.7 760.4 130.7 761.7 129.6 761.8ZM129.6 769.6 130.4 769.6 130.8 771 130.9 772.3 129.6 772.4ZM129.6 780.2 130.9 780.2 131 782.8 129.6 783ZM129.6 790.8 131.2 790.8 131.3 793.4 129.6 793.5ZM129.6 801.3 131.6 801.3 131.8 804 129.6 804.1ZM129.6 811.9 132.2 811.9 132.1 814.5 129.6 814.7ZM129.6 822.5 129.6 822.3 132.3 822.5 132.3 823.8 131.7 825.1 129.6 825.3ZM129.6 833 131.9 833 131.8 834.3 130.9 835.7 129.6 835.8ZM129.6 843.6 131.4 843.6 131.4 844.9 130.1 846.2 129.6 846.3ZM129.6 854.2 130.8 854.2 130.7 855.5 129.6 856.3Z"/>
<path fill="#cfff30" d="M129.6 401.1 129.9 402.5 129.6 402.5ZM547.8 401.1 555 400.2 555 693.8 483.1 687 425.2 680.8 373.3 674.2 329.3 667.7 297.4 662.2 269.4 656.7 249.4 652.2 222.9 645.5 214 642.8 204.1 638.9 199.4 637.6 196 636.2 189.2 634.9 185.3 633.6 183.5 632.3 184.7 629.6 183.2 628.3 177.1 627 175 625.7 167.5 625 159.6 624.8 129.6 625.2 129.6 621 149.6 621.4 159.6 621.3 167.5 620.4 172 619.1 171.7 617.7 163.3 616.4 162.1 615.1 149.6 614.6 129.6 614.7 129.6 610.3 145.6 610.4 155.6 610 161.6 609.3 165.5 608.5 165.8 607.2 155.5 605.9 154.7 604.5 129.6 604.2 129.6 599.7 143.6 599.6 153.6 599.1 161.8 597.9 162.2 596.6 150.4 595.3 149.8 594 129.6 593.7 129.6 589.1 143.6 588.9 153.6 588.2 159.3 587.4 159.7 586 153.6 585.2 146.5 584.7 146 583.4 129.6 583.2 129.6 578.4 141.6 578.3 151.6 577.6 157.5 576.8 157.9 575.5 151.6 574.7 143.6 574.2 143.4 572.8 129.6 572.7 129.6 567.9 141.6 567.6 151.6 566.9 156.7 566.2 157 564.9 149.6 564 142.3 563.6 142.3 562.3 129.6 562.1 129.6 557.3 139.6 557.1 151.6 556.4 157.4 555.7 157.8 554.3 151.6 553.5 144.2 553 144.8 551.7 129.6 551.5 129.6 546.8 141.6 546.7 153.6 546 160.4 545.1 160.9 543.8 155.6 542.9 149.8 542.5 150.7 541.1 129.6 540.9 129.6 536.5 145.6 536.4 157.6 535.6 165.3 534.5 166.1 533.2 158.2 531.9 159.5 530.6 149.6 530.2 129.6 530.2 129.6 526.1 147.6 526.5 157.6 526.2 171.5 524.2 172.5 524 173.6 522.6 169 521.3 170.4 520 165.5 519.4 153.6 519.1 129.6 519.6 129.6 515.8 153.6 516.7 163.6 516.7 171.5 515.9 181.9 513.4 183.2 512.1 181.2 510.8 182.8 509.4 178.2 508.1 180.8 506.8 186.3 505.5 193.4 502.8 195 501.5 195 500.2 196.9 498.9 196.6 497.6 198.8 496.2 207.6 492.3 214.4 487 224.4 481.7 235.8 475.1 256.8 464.5 281 454 303.4 445.8 327.3 438.6 345.3 434 365.3 429.5 388.2 424.9 413.2 420.4 473.1 411.1ZM129.6 411.7 130.8 411.7 131 413 129.6 413.1ZM129.6 422.3 129.6 422 132 422.3 132.2 423.6 129.6 423.8ZM129.6 432.8 129.6 432.5 133.3 432.8 133.4 434.2 129.6 434.4ZM129.6 443.4 129.6 443 134.6 443.4 134.7 444.7 129.6 445.1ZM129.6 454 129.6 453.4 135.8 454 136 455.3 129.6 455.7ZM129.6 464.5 129.6 463.9 137.2 464.5 137.4 465.9 129.6 466.3ZM129.6 475.1 129.6 474.3 139.1 475.1 139.4 476.4 129.6 477ZM129.6 485.7 129.6 484.7 141.6 485.7 142 487 129.6 487.6ZM129.6 496.2 129.6 495.1 141.6 495.9 145.1 496.2 145.6 497.6 129.6 498.3ZM129.6 506.8 129.6 505.5 137.6 505.9 151 506.8 152.2 508.1 129.6 508.9ZM129.6 632.3 129.6 631.7 142.7 632.3 150.7 633.6 149.2 634.9 129.6 635.7ZM129.6 642.8 129.6 642.4 136.6 642.8 142.4 644.2 141.7 645.5 129.6 646.1ZM129.6 653.4 129.6 653.2 132.7 653.4 137.7 654.7 137.2 656 129.6 656.5ZM129.6 664 134.6 665.3 134.3 666.6 129.6 666.9ZM129.6 675.9 129.6 674.8 132.6 675.9 132.3 677.2 129.6 677.4ZM129.6 686.4 129.6 685.8 131.1 686.4 131 687.7 129.6 687.8ZM129.6 697 130 697 129.9 698.3 129.6 698.3Z"/>
<path fill="#dfff20" d="M545.6 411.7 555 410.4 555 684.2 507.1 679.6 465.1 675.2 427.2 670.8 389.2 665.9 355.3 660.9 323.3 655.6 295.4 650.3 269.4 644.6 245.4 638.2 227.2 632.3 206 623 204 621.7 201.6 619.1 200 617.7 197 616.4 195.4 615.1 191.3 613.8 189.6 612.5 189.2 611.1 190.5 608.5 189.7 607.2 186.5 605.9 185.5 604.5 179.7 603.2 178.5 601.9 179.8 600.6 183.9 597.9 183.6 596.6 179.8 595.3 179.2 594 169.8 592.6 168.4 591.3 175.5 589.2 179.4 587.4 179.3 586 174.9 584.7 174.4 583.4 167.5 582.5 159.6 582.2 129.6 582.8 129.6 579.1 153.6 580.3 161.6 580.2 169.5 579 176.3 576.8 176.3 575.5 171.5 574.2 171.2 572.8 167.5 572.3 155.6 571.8 129.6 572.3 129.6 568.5 151.6 569.4 159.6 569.3 165.5 568.6 171.5 567.2 174.7 566.2 174.9 564.9 170 563.6 170 562.3 163.6 561.6 151.6 561.3 129.6 561.7 129.6 558 151.6 558.8 161.6 558.6 167.5 557.8 173.5 556.3 175.7 555.7 176.1 554.3 172.2 553 172.8 551.7 165.5 550.8 155.6 550.5 129.6 551.1 129.6 547.5 151.6 548.7 161.6 548.8 169.5 548 180.2 545.1 181 543.8 178.7 542.5 179.7 541.1 174.3 539.8 176.2 538.5 181.1 537.2 188.1 534.5 189.3 533.2 188.6 531.9 190 530.6 188.8 529.3 190.6 527.9 199.1 524 200.7 522.6 201.3 521.3 203 520 203.6 518.7 212.7 513.4 219.5 508.1 237.4 497.2 256.5 487 278.5 476.4 299.4 467.4 321.3 458.9 345.3 450.8 369.3 443.9 397.2 437.1 427.2 430.8 461.1 424.6 500.3 418.3ZM129.6 454 130 454 130.1 455.3 129.6 455.3ZM129.6 464.5 130.9 464.5 131 465.9 129.6 466ZM129.6 475.1 129.6 474.8 132 475.1 132.1 476.4 129.6 476.6ZM129.6 485.7 129.6 485.3 133.3 485.7 133.5 487 129.6 487.2ZM129.6 496.2 129.6 495.7 134.9 496.2 135.1 497.6 129.6 497.9ZM129.6 506.8 129.6 506.1 136.8 506.8 137.1 508.1 129.6 508.5ZM129.6 517.4 129.6 516.5 139.3 517.4 139.6 518.7 129.6 519.2ZM129.6 527.9 129.6 526.8 139.6 527.6 142.8 527.9 143.3 529.3 129.6 529.9ZM129.6 537.2 148.2 538.5 149.1 539.8 129.6 540.5ZM129.6 590 129.6 589.7 137.5 590 152.9 591.3 152 592.6 129.6 593.4ZM129.6 600.6 129.6 600.3 136.1 600.6 147.7 601.9 147.2 603.2 129.6 603.9ZM129.6 611.1 129.6 610.9 134.7 611.1 144.1 612.5 143.6 613.8 129.6 614.4ZM129.6 621.7 132.7 621.7 140.4 623 139.9 624.3 129.6 624.9ZM129.6 632.3 136.9 633.6 136.5 634.9 129.6 635.3ZM129.6 644.2 129.6 643.1 133.8 644.2 133.4 645.5 129.6 645.7ZM129.6 654.7 129.6 654.3 131.2 654.7 130.9 656 129.6 656.1Z"/>
<path fill="#efff10" d="M549.3 420.9 555 420.1 555 675.4 509.1 670.8 467.1 666.3 429.2 661.7 393.2 656.8 361.3 651.9 331.3 646.7 305.9 641.5 283.4 636.1 265.5 630.9 249.4 625.2 238.9 620.4 227.4 613.8 223.9 611.1 214 601.9 211.1 596.6 209.7 595.3 208.8 594 207.1 592.6 206.3 591.3 205.8 590 205.6 587.4 205 586 203.6 584.7 203 583.4 201.2 582.1 200.6 580.8 200.6 579.4 201.2 576.8 200.9 575.5 199.5 574.2 199.2 572.8 197.3 571.5 197 570.2 198.1 567.6 199 566.2 199 564.9 197.9 563.6 197.9 562.3 196.5 560.9 196.7 559.6 200.2 555.7 200.7 554.3 200.3 553 201 551.7 200.5 550.4 201.3 549.1 206 545.1 207 543.8 207.5 542.5 208.7 541.1 209.2 539.8 216 534.5 221.7 529.3 239.1 517.4 261.7 504.2 275.4 497 289.4 490.3 317.3 478.2 345.3 467.6 373.3 458.2 401.7 450 433.2 442.3 467.1 435.1 505.1 428.1ZM129.6 506.8 130.4 506.8 130.5 508.1 129.6 508.2ZM129.6 517.4 129.6 517.1 131.7 517.4 131.9 518.7 129.6 518.8ZM129.6 527.9 129.6 527.5 133.4 527.9 133.6 529.3 129.6 529.5ZM129.6 538.5 129.6 537.9 135.3 538.5 135.5 539.8 129.6 540.2ZM129.6 549.1 129.6 548.2 137 549.1 137.2 550.4 129.6 550.8ZM129.6 559.6 129.6 558.7 138.2 559.6 138.2 560.9 129.6 561.4ZM129.6 570.2 129.6 569.2 138 570.2 137.9 571.5 129.6 571.9ZM129.6 580.8 129.6 579.8 137.3 580.8 137.1 582.1 129.6 582.5ZM129.6 591.3 129.6 590.4 136.3 591.3 136.1 592.6 129.6 593ZM129.6 601.9 129.6 601 135.2 601.9 135 603.2 129.6 603.5ZM129.6 612.5 129.6 611.7 134 612.5 133.8 613.8 129.6 614ZM129.6 623 129.6 622.5 132.3 623 132.1 624.3 129.6 624.5ZM129.6 633.6 130.4 633.6 130.2 634.9 129.6 635Z"/>
<path fill="#ffff00" d="M550.9 430.2 555 429.5 555 667.1 513.1 662.8 473.1 658.4 439.2 654.1 407.2 649.7 377.3 645 351.3 640.4 329.3 635.9 309 630.9 293.4 626.4 279.8 621.7 267.7 616.4 258.1 611.1 250.7 605.9 247.4 603.2 243.5 599.3 236.8 591.3 230.3 580.8 226.5 570.2 226 563.6 226.1 559.6 229.9 550.4 231.8 547.7 236.4 542.5 240.4 538.5 248.7 531.9 262.5 522.6 281.4 511.8 303.4 500.9 329.3 489.5 357.3 478.7 385.2 469 415.2 459.8 445.2 451.8 477.1 444.3 511.1 437.4ZM129.6 549.1 130.2 549.1 130.3 550.4 129.6 550.4ZM129.6 559.6 130.8 559.6 130.8 560.9 129.6 561ZM129.6 570.2 130.7 570.2 130.7 571.5 129.6 571.6ZM129.6 580.8 130.3 580.8 130.3 582.1 129.6 582.1Z"/>
<path fill="#ffef00" d="M551.5 439.4 555 438.8 555 659.2 483.1 651.3 451.1 647.3 421.2 643 395.2 638.8 371.3 634.4 351.3 630.2 333.3 625.7 319.3 621.5 305.1 616.4 293.3 611.1 284.1 605.9 275.4 599.4 268.3 592.6 262 584.7 258.1 578.1 256.4 574.2 255.1 570.2 254.4 564.9 254.4 560.9 255.3 557 257 553 258.5 550.4 261.5 546.4 265.2 542.5 269.6 538.5 275.4 534 282.4 529.3 299.4 519.3 319.3 509.2 342.6 498.9 367.3 489.1 395.2 479.2 425.2 469.6 455.1 461.1 485.1 453.5 517.1 446.3Z"/>
<path fill="#ffdf00" d="M551.6 448.7 555 448 555 651.6 489.7 644.2 461.1 640.3 435.2 636.5 411.2 632.4 391.2 628.6 372.3 624.3 357.1 620.4 344.2 616.4 331.3 611.7 321.3 607.2 311.8 601.9 304.2 596.6 296.7 590 293 586 289.9 582.1 286 575.5 284.3 571.5 283.3 567.6 282.9 563.6 283 560.9 283.9 557 285.6 553 287.2 550.4 290.3 546.4 297.2 539.8 308 531.9 321.4 524 339.3 514.9 360.4 505.5 383.2 496.4 409.2 487 435.2 478.5 463.1 470.2 491.1 462.7 521 455.4Z"/>
<path fill="#ffcf00" d="M551.3 457.9 555 457.1 555 644.2 499.1 637.4 451.1 630.3 431.2 626.8 412.3 623 395.3 619.1 381.2 615.3 368.4 611.1 357.9 607.2 349 603.2 339.3 597.9 331.5 592.6 323.8 586 319.1 580.8 314.8 574.2 313.1 570.2 312.3 567.6 311.8 563.6 311.9 560.9 312.7 557 313.8 554.3 315.3 551.5 318 547.7 324.7 541.1 333.5 534.5 344.2 527.9 359.3 520.1 376.7 512.1 397.2 503.7 419.2 495.5 443.2 487.4 469.1 479.4 495.1 472 523 464.7Z"/>
<path fill="#ffbf00" d="M550.8 467.2 555 466.1 555 636.7 507.1 630.5 465.1 623.8 446.9 620.4 431.2 617 418.2 613.8 404.3 609.8 392.5 605.9 382.5 601.9 373.3 597.6 364.6 592.6 357.1 587.4 351.1 582.1 346.6 576.8 343.4 571.5 341.9 567.6 341.3 564.9 341.3 559.6 342.3 555.7 343.5 553 347.1 547.7 352.3 542.5 360.9 535.9 369.3 530.6 381.5 524 395.4 517.4 414.2 509.4 433.2 502.2 454.1 494.9 477.1 487.5 501 480.4 525 473.8Z"/>
<path fill="#ffaf00" d="M550.1 476.4 555 475.1 555 629.1 515.1 623.5 481.1 617.6 451.4 611.1 439.2 607.9 428 604.5 416.7 600.6 407.2 596.7 399 592.6 392.1 588.7 386.3 584.7 380.1 579.4 376.5 575.5 373.1 570.2 371.2 564.9 370.8 562.3 370.9 559.6 371.4 557 372.3 554.3 375.4 549.1 380.1 543.8 386.5 538.5 394.4 533.2 403.6 527.9 416.9 521.3 431.2 515 447.2 508.7 465.1 502.1 485.1 495.4 505.1 489.1 527 482.7Z"/>
<path fill="#ff9f00" d="M554.3 484.3 555 484.2 555 621.2 523 616.1 495.1 610.8 471.1 605 451.1 599 434.9 592.6 426.7 588.7 419.9 584.7 414.2 580.8 409.6 576.8 406 572.8 403.4 568.9 402.1 566.2 401.4 563.6 401 559.6 401.7 555.7 402.7 553 404.1 550.4 407.1 546.4 412.6 541.1 419.8 535.9 428.4 530.6 438.4 525.3 449.7 520 463.1 514.4 479.3 508.1 495.1 502.5 514.3 496.2Z"/>
<path fill="#ff8f00" d="M554.3 493.6 555 493.4 555 612.8 531 608.4 507.6 603.2 488.2 597.9 472.5 592.6 459.1 586.9 448.1 580.8 443.2 577.2 439.6 574.2 437.1 571.5 434.2 567.6 432.5 563.6 431.8 559.6 432.1 555.7 433 553 434.3 550.4 437.1 546.4 441 542.5 445.8 538.5 453.6 533.2 460.5 529.3 471 524 493.1 514.4 521.2 504.2Z"/>
<path fill="#ff8000" d="M551.8 504.2 555 503.1 555 603.5 537 599.5 523 595.8 509.1 591.6 497.6 587.4 487.1 582.7 478.9 578.1 471.7 572.8 466.7 567.6 465.1 564.9 463.5 560.9 463.1 557 463.9 553 465 550.4 467.6 546.4 471.2 542.5 475.9 538.5 481.5 534.5 488.1 530.6 503.8 522.6 525.9 513.4Z"/>
<path fill="#ff7000" d="M552.7 514.7 555 513.8 555 592.7 541.2 588.7 529.9 584.7 519.1 580.1 510.5 575.5 504.7 571.5 501.7 568.9 499.2 566.2 496.6 562.3 495.6 559.6 495.1 557 495.5 553 496.3 550.4 497.7 547.7 502 542.5 508.1 537.2 516.1 531.9 525.7 526.6 536.8 521.3Z"/>
<path fill="#ff6000" d="M553.7 527.9 555 527.3 555 578.9 547.6 575.5 543 573 538.7 570.2 535.3 567.6 532.6 564.9 529.7 560.9 528.5 558.3 527.8 554.3 528.1 551.7 529.6 547.7 531.2 545.1 534.6 541.1 537.5 538.5 542.8 534.5Z"/></g>
<g shape-rendering="crispEdges"><rect x="810.4" y="61.7" width="422.5" height="795.1" fill="#00008f"/>
<path fill="#00009f" d="M810.4 61.7 1232.9 61.7 1232.9 504 1224.6 508.1 1221 510.8 1218.9 512.7 1217.2 514.7 1215.6 517.4 1214.6 520 1214.1 524 1214.3 526.6 1215.1 530.6 1216.7 534.5 1218.8 538.5 1224.5 546.4 1232.9 555.2 1232.9 856.8 810.4 856.8Z"/>
<path fill="#0000af" d="M810.4 61.7 1232.9 61.7 1232.9 495.7 1224.9 497.8 1216.9 500.4 1210.9 503.1 1204.9 506.7 1201.8 509.4 1198.8 513.4 1197.4 517.4 1197 521.3 1197.5 525.3 1199.2 530.6 1202 535.9 1206.6 542.5 1211.2 547.7 1217.8 554.3 1225.5 560.9 1232.9 566.6 1232.9 856.8 810.4 856.8Z"/>
<path fill="#0000bf" d="M810.4 61.7 1232.9 61.7 1232.9 489.4 1218.9 492 1208.9 494.4 1199.2 497.6 1193.3 500.2 1187 504.2 1183.1 508.1 1180.9 512.1 1180.1 514.7 1179.9 517.4 1180 520 1180.9 524 1183.8 530.6 1187.9 537.2 1194.4 545.1 1200.9 551.7 1210 559.6 1220.6 567.6 1232.9 575.8 1232.9 856.8 810.4 856.8Z"/>
<path fill="#0000cf" d="M810.4 61.7 1232.9 61.7 1232.9 484.2 1212.9 487 1199.1 489.6 1188.8 492.3 1178.8 495.9 1175.4 497.6 1171 500.2 1166.6 504.2 1164.8 506.8 1163.6 509.4 1163 512.1 1162.8 514.7 1163.1 517.4 1164.1 521.3 1165.7 525.3 1167.8 529.3 1170.3 533.2 1174.3 538.5 1182.7 547.7 1191.3 555.7 1203.1 564.9 1216.8 574.2 1232.9 583.9 1232.9 856.8 810.4 856.8Z"/>
<path fill="#0000df" d="M810.4 61.7 1232.9 61.7 1232.9 479.6 1213.1 481.7 1194.6 484.3 1178.8 487.5 1166.8 490.9 1157.6 494.9 1153.4 497.6 1150.8 499.7 1148.2 502.8 1146.8 505.5 1146.1 508.1 1145.8 510.8 1146.2 514.7 1147.3 518.7 1149 522.6 1151.9 527.9 1155.6 533.2 1159.8 538.5 1165.9 545.1 1171.3 550.4 1182.3 559.6 1197 570.2 1213.9 580.8 1232.9 591.3 1232.9 856.8 810.4 856.8Z"/>
<path fill="#0000ef" d="M810.4 61.7 1232.9 61.7 1232.9 475.5 1207.3 477.7 1185.3 480.4 1168.8 483.1 1153 487 1142.5 490.9 1137.7 493.6 1134.3 496.2 1131.8 498.9 1130.2 501.5 1129.2 504.2 1128.8 508.1 1129.3 512.1 1131 517.4 1133.7 522.6 1137.1 527.9 1142.1 534.5 1147.9 541.1 1154.4 547.7 1160.3 553 1173.6 563.6 1189.3 574.2 1209.4 586 1232.9 598.5 1232.9 856.8 810.4 856.8Z"/>
<path fill="#0000ff" d="M810.4 61.7 1232.9 61.7 1232.9 471.8 1204.7 473.8 1178.2 476.4 1156.8 479.5 1140.1 483 1128 487 1122.4 489.6 1118.4 492.3 1115.6 494.9 1113.7 497.6 1112.5 500.2 1111.8 504.2 1112.4 509.4 1114.3 514.7 1117.1 520 1121.5 526.6 1126.6 533.2 1133.7 541.1 1140.3 547.7 1147.8 554.3 1156.1 560.9 1163.3 566.2 1181.7 578.1 1205.2 591.3 1232.9 605.5 1232.9 856.8 810.4 856.8Z"/>
<path fill="#0010ff" d="M810.4 61.7 1232.9 61.7 1232.9 468.3 1196.9 470.5 1166.8 473.2 1142.3 476.4 1124.8 479.9 1118.1 481.7 1110.8 484.3 1106.8 486.1 1102.7 488.4 1099.6 490.9 1096.5 494.9 1095.4 497.6 1094.9 501.5 1095.6 506.8 1097.6 512.1 1101.3 518.7 1105.9 525.3 1113.4 534.5 1120.7 542.5 1129 550.4 1136.8 557 1144.8 563.1 1153 568.9 1163.3 575.5 1174.3 582.1 1201 596.6 1232.9 612.4 1232.9 856.8 810.4 856.8Z"/>
<path fill="#0020ff" d="M810.4 61.7 1232.9 61.7 1232.9 464.9 1191.8 467.2 1158.4 469.8 1132.8 472.7 1111.4 476.4 1102.7 478.5 1096.8 480.4 1090.3 483 1085.7 485.7 1082.4 488.3 1079.5 492.3 1078.4 494.9 1078 498.9 1078.9 504.2 1081.6 510.8 1085.6 517.4 1091.4 525.3 1099.1 534.5 1107.8 543.8 1116.3 551.7 1125.9 559.6 1134.9 566.2 1144.7 572.8 1166.8 586 1196.8 601.9 1232.9 619.3 1232.9 856.8 810.4 856.8Z"/>
<path fill="#0030ff" d="M810.4 61.7 1232.9 61.7 1232.9 461.8 1186.8 464 1150.8 466.5 1120.8 469.6 1098.7 473 1089 475.1 1082.7 476.8 1076.3 479.1 1070.7 481.7 1066.8 484.3 1064.1 487 1061.9 490.9 1061.1 494.9 1061.8 500.2 1064.3 506.8 1068.2 513.4 1074.9 522.6 1083.7 533.2 1093.5 543.8 1103.4 553 1113.2 560.9 1122.8 567.9 1134.3 575.5 1145.2 582.1 1159.3 590 1192.9 607.4 1232.9 626.4 1232.9 856.8 810.4 856.8Z"/>
<path fill="#0040ff" d="M810.4 61.7 1232.9 61.7 1232.9 458.7 1186.8 460.7 1144.8 463.3 1110.8 466.4 1084.7 470 1074.7 472 1066.7 474 1059.4 476.4 1053.7 479.1 1049.8 481.7 1046.7 485 1045 488.3 1044.3 492.3 1045.1 497.6 1047.7 504.2 1052.5 512.1 1059.4 521.3 1070.5 534.5 1080.4 545.1 1090.4 554.3 1100.7 562.7 1111.3 570.2 1123.7 578.1 1137.1 586 1151.5 594 1170.8 604 1190.9 614 1212.6 624.3 1232.9 633.5 1232.9 856.8 810.4 856.8Z"/>
<path fill="#0050ff" d="M810.4 61.7 1232.9 61.7 1232.9 455.8 1179.5 457.9 1134.2 460.6 1098.7 463.6 1070.8 467.2 1060.7 469 1051.4 471.1 1042.9 473.8 1036.9 476.4 1032.9 479.1 1030.2 481.7 1028.1 485.7 1027.6 489.6 1027.8 492.3 1028.8 496.2 1031.8 502.8 1036.8 510.8 1045 521.3 1057.2 535.9 1067.1 546.4 1077.1 555.7 1088.8 564.9 1100.2 572.8 1112.8 580.8 1126.8 588.9 1144.8 598.7 1166.8 610 1190.9 621.8 1212.9 632 1232.9 640.9 1232.9 856.8 810.4 856.8Z"/>
<path fill="#0060ff" d="M810.4 61.7 1232.9 61.7 1232.9 452.9 1172.8 455.2 1124.8 457.8 1086.7 460.9 1056.4 464.5 1044.7 466.5 1035.7 468.5 1026.6 471.1 1020.3 473.8 1016.1 476.4 1013.4 479.1 1012.4 480.4 1011.3 483 1010.9 487 1011.2 489.6 1012.3 493.6 1013.9 497.6 1016 501.5 1022.2 510.8 1032.7 524 1044.9 538.5 1054.8 549.1 1065.1 558.3 1076.7 567.3 1088.7 575.5 1103.7 584.7 1120.8 594.4 1142.4 605.9 1166.8 618.2 1190.9 629.8 1212.9 639.8 1232.9 648.3 1232.9 856.8 810.4 856.8Z"/>
<path fill="#0070ff" d="M810.4 61.7 1232.9 61.7 1232.9 450.1 1168.8 452.4 1116.8 455.1 1076.7 458.1 1058.7 459.9 1042.9 461.9 1030.7 463.8 1020.6 465.9 1010.8 468.5 1004.6 470.9 999.5 473.8 996.6 476.4 995 479.1 994.1 483 994.3 485.7 995.3 489.6 998.8 497.6 1003.7 505.5 1011.8 516 1028.9 537.2 1038.4 547.7 1049.7 558.3 1063.2 568.9 1076.9 578.1 1094.4 588.7 1116.8 601.1 1142.8 614.8 1167.2 627 1189.6 637.6 1210.7 646.8 1232.9 655.7 1232.9 856.8 810.4 856.8Z"/>
<path fill="#0080ff" d="M810.4 61.7 1232.9 61.7 1232.9 447.3 1166.8 449.6 1110.8 452.3 1066.7 455.4 1030.4 459.2 1016.6 461.3 1006.2 463.2 995.5 465.9 988.6 468.3 983.1 471.1 979.9 473.8 978.2 476.4 977.4 480.4 977.9 484.3 979.2 488.3 981.7 493.6 985.5 500.2 992 509.4 1013.9 537.2 1021.8 546.4 1029.5 554.3 1038.6 562.3 1049 570.2 1064.7 580.8 1084.7 592.7 1112.8 608.2 1144.8 624.9 1166.8 635.7 1188.3 645.5 1210.6 654.7 1232.9 663.2 1232.9 856.8 810.4 856.8Z"/>
<path fill="#008fff" d="M810.4 61.7 1232.9 61.7 1232.9 444.6 1162.8 446.9 1104.7 449.6 1058.7 452.7 1036.7 454.7 1018.9 456.6 1004.6 458.5 992.6 460.6 980.9 463.2 972.6 465.9 967 468.5 963.5 471.1 961.5 473.8 961 475.1 960.7 477.7 961.3 481.7 963.4 487 966.8 493.6 970.8 500.2 976.4 508.1 1001.7 541.1 1008.5 549.1 1016.4 557 1025.6 564.9 1036.2 572.8 1054.2 584.7 1076.7 598 1112.8 617.9 1142.8 633.5 1164.8 644 1184.8 652.6 1206.9 661.3 1232.9 670.7 1232.9 856.8 810.4 856.8Z"/>
<path fill="#009fff" d="M810.4 61.7 1232.9 61.7 1232.9 441.8 1160.8 444.2 1098.7 447 1048.7 450.2 1008.4 454 992.6 456 978.6 458.2 967.1 460.6 957.8 463.2 951.4 465.9 947.3 468.5 945 471.1 944.4 472.5 944 475.1 944.7 479.1 946.3 483 950.5 490.9 955.2 498.9 960.7 506.8 973.8 524 988 543.8 994.8 551.7 1002.9 559.6 1012.3 567.6 1022.9 575.5 1042.7 588.4 1068.7 603.8 1106.8 625.1 1134.8 639.6 1155.9 649.4 1178.1 658.7 1202.8 667.9 1232.9 678.3 1232.9 856.8 810.4 856.8Z"/>
<path fill="#00afff" d="M810.4 61.7 1232.9 61.7 1232.9 439.1 1158.8 441.4 1094.7 444.3 1042.7 447.5 998.6 451.4 980.6 453.5 966.6 455.6 954.3 457.9 943.8 460.6 936.4 463.2 931.6 465.9 928.8 468.5 927.9 469.8 927.3 472.5 928 476.4 929.7 480.4 940.6 498.9 945.9 506.8 958.6 524 969.1 539.8 973.9 546.4 980.8 554.3 989 562.3 998.5 570.2 1009.2 578.1 1031.4 592.6 1068.7 614.9 1098.7 632 1122.8 644.4 1144.8 654.4 1168.7 664 1196.9 674.1 1232.9 686.1 1232.9 856.8 810.4 856.8Z"/>
<path fill="#00bfff" d="M810.4 61.7 1232.9 61.7 1232.9 436.4 1154.8 438.8 1086.7 441.8 1030.7 445.2 984.6 449.3 966.6 451.4 949.7 454 936.1 456.6 926 459.2 919 461.9 914.5 464.5 911.8 467.2 910.7 469.8 910.6 471.1 911.3 473.8 913.1 477.7 918.9 487 927.4 501.5 942.4 522.6 953.7 541.1 958.3 547.7 965.1 555.7 974.6 564.9 984.2 572.8 996.8 582.1 1020.6 597.7 1068.7 627.1 1090.7 639.6 1110.2 649.4 1131.1 658.7 1156.8 668.6 1185.1 678.5 1232.9 694.2 1232.9 856.8 810.4 856.8Z"/>
<path fill="#00cfff" d="M810.4 61.7 1232.9 61.7 1232.9 433.7 1150.8 436.2 1078.7 439.3 1018.6 443 994.6 445 970.6 447.3 952.6 449.4 936.5 451.8 924.7 454 912.5 456.9 904.5 459.5 902 460.6 898.5 462.7 896.5 464.5 894.6 467.2 894.1 469.8 894.4 471.1 895.8 473.8 899.8 480.4 904.5 487 913.2 502.8 926 521.3 929.9 527.9 937.1 541.1 943.4 550.4 950.2 558.3 959.8 567.6 971.1 576.8 985.7 587.4 1012.6 605.2 1056.7 633.3 1075.6 644.2 1094 653.4 1115.4 662.6 1139.8 671.9 1162.8 679.9 1232.9 703.2 1232.9 856.8 810.4 856.8Z"/>
<path fill="#00dfff" d="M810.4 61.7 1232.9 61.7 1232.9 431 1144.8 433.7 1070.7 436.9 1007.8 440.8 980.6 443 956.6 445.3 936.5 447.7 918.5 450.5 906.5 452.9 892.4 456.6 885.2 459.2 882.5 460.8 880.1 463.2 879.1 465.9 878.1 467.2 877.8 469.8 878.4 471.1 883 476.4 883.4 477.7 885 480.4 889.4 485.7 891.7 490.9 894.8 496.2 897.9 502.8 908.7 518.7 913.9 527.9 916.9 534.5 921.6 543.8 929 554.3 938.9 564.9 949.2 574.2 962.7 584.7 980.6 597.4 1024.7 627.6 1039.8 637.6 1056.7 647.5 1074.7 656.5 1092.7 664.3 1114.8 672.8 1136.8 680.5 1201.8 702.3 1220 708.9 1232.9 713.9 1232.9 856.8 810.4 856.8Z"/>
<path fill="#00efff" d="M810.4 61.7 1232.9 61.7 1232.9 428.2 1140.8 431 1060.7 434.5 994.6 438.7 966.6 441 942.3 443.4 920.5 446.1 898.5 449.7 885.5 452.6 872.8 456.6 865.8 459.2 863.6 460.6 863.9 461.9 863.6 463.2 864.2 464.5 864 465.9 862.1 467.2 862.5 468.5 861.3 469.8 862.2 471.1 864.7 472.5 868.1 475.1 869.1 476.4 868.9 477.7 870 479.1 870.1 480.4 871.1 481.7 872.9 483 875.4 485.7 876.1 487 876 488.3 876.7 489.6 876.6 490.9 877.2 492.3 880.2 496.2 880.7 497.6 880.7 498.9 881.3 500.2 881.4 501.5 882.2 502.8 885.4 506.8 888.1 512.1 893 518.7 894.7 522.6 897.7 527.9 899.9 534.5 904.2 543.8 911.2 554.3 918 562.3 921.8 566.2 931.7 575.5 944.6 585.9 1011.1 634.9 1022.9 642.8 1036.4 650.8 1049.2 657.4 1063.8 664 1078.7 670 1096.7 676.7 1164.1 699.6 1189.6 708.9 1202.8 714.2 1214.7 719.4 1225.1 724.7 1232.9 729.5 1232.9 770.6 1224 776.2 1205.4 786.8 1197.3 792.1 1194.1 794.7 1191.6 797.4 1190.1 800 1189.6 802.6 1190.4 805.3 1192.6 807.9 1196.2 810.6 1201.4 813.2 1208.2 815.9 1216.6 818.5 1232.9 822.4 1232.9 856.8 810.4 856.8Z"/>
<path fill="#00ffff" d="M810.4 61.7 1232.9 61.7 1232.9 425.4 1146.8 428 1074.7 430.9 1010.6 434.5 956.6 438.6 934.5 440.8 914.5 443.1 894.6 446 879.7 448.7 872.5 450.3 865.5 452.6 860.2 455.3 854.3 456.6 851.9 457.9 844.1 459.2 841.9 460.6 847.3 461.9 848.3 463.2 850.7 464.5 850.7 465.9 846.7 467.2 847.3 468.5 842.5 469.8 843.9 471.1 850 472.5 855.3 475.1 856.2 476.4 854.5 477.7 855.6 479.1 854 480.4 855.2 481.7 858.5 483 862.1 485.7 862.7 487 861.3 488.3 861.9 489.6 860.6 490.9 861.1 492.3 863.3 493.6 865.9 496.2 866.3 497.6 865.2 498.9 865.8 500.2 864.9 501.5 865.6 502.8 867.7 504.2 870.5 506.8 871.2 508.1 870.8 509.4 871.7 510.8 871.5 512.1 872.4 513.4 874.2 514.7 876.7 517.4 877.4 518.7 877.3 520 878 521.3 878 522.6 878.6 524 881.5 527.9 882 529.3 881.7 530.6 882.2 531.9 882.1 533.2 882.5 534.5 885 538.5 886.3 543.8 887 545.1 890.1 549.1 891.4 551.7 893.9 555.7 903 566.2 912.3 575.5 921.4 583.4 988.6 637.1 1000.4 645.5 1010.6 651.8 1022.7 658.3 1034.6 664 1050.2 670.6 1066.7 676.9 1135.9 700.9 1163.7 711.5 1178.7 718.1 1188.9 723.4 1197.3 728.7 1203.8 734 1207.2 737.9 1208.9 740.6 1210.2 744.5 1210.4 747.2 1210 749.8 1208.9 752.6 1206.4 756.4 1203.9 759.1 1197.3 764.3 1188.8 769.6 1178.7 774.9 1153.9 786.8 1144.3 792.1 1138.7 796 1136.1 798.7 1134.6 801.3 1134.3 804 1135.3 806.6 1136.4 807.9 1139.8 810.6 1142.1 811.9 1147.8 814.5 1159.5 818.5 1174.7 822.5 1198.9 827.5 1216.9 830.6 1232.9 832.6 1232.9 856.8 810.4 856.8 810.4 471.2 812.2 471.1 813.2 469.8 810.4 469.7 810.4 460.8 815.8 460.6 814.9 459.2 810.4 459.1Z"/>
<path fill="#10ffef" d="M810.4 61.7 1232.9 61.7 1232.9 422.6 1146.8 425.1 1072.7 428.1 1010.6 431.4 954.6 435.5 926.5 438.1 902.5 440.9 890.5 442.7 870.5 446 864.3 447.4 855.3 448.7 848.9 450 849.5 451.3 847.6 452.6 848.2 454 846 455.3 836.9 456.6 834.8 457.9 824.4 458.6 810.4 458.6 810.4 450.3 815.9 450 813.6 448.7 810.4 448.5ZM810.4 461.9 810.4 461.3 816.4 461.2 824.4 461.4 831.3 461.9 839.6 464.5 839.7 465.9 831.7 467.2 832.4 468.5 830.4 468.7 822.4 469.2 810.4 469.2ZM810.4 472.5 810.4 471.7 822.4 471.6 830.4 471.9 835.5 472.5 844 475.1 844.9 476.4 840.2 477.7 841.3 479.1 836.4 480 831.2 480.4 833.7 481.7 838.4 482.1 844 483 849.8 485.7 850.2 487 846.5 488.3 846.9 489.6 841 490.9 841.5 492.3 848 493.6 852.6 496.2 852.9 497.6 849.6 498.9 850 500.2 845.7 501.5 846.5 502.8 851.8 504.2 856.4 506.8 857 508.1 854.8 509.4 855.6 510.8 853.3 512.1 854.3 513.4 858 514.7 861.8 517.4 862.4 518.7 860.9 520 861.5 521.3 860 522.6 860.6 524 863.1 525.3 865.8 527.9 866.1 529.3 864.7 530.6 865 531.9 863.7 533.2 864.1 534.5 866.1 535.9 868.5 538.5 868.9 539.8 867.8 541.1 868.4 542.5 867.5 543.8 868.2 545.1 870.2 546.4 872.9 549.1 873.6 550.4 873.2 551.7 874.1 553 874 554.3 875 555.7 879.6 559.6 880.6 560.9 880.8 562.3 881.9 563.6 882.4 564.9 883.6 566.2 888.2 570.2 892.4 575.5 898.4 580.8 903.7 586 934.8 612.5 961.2 636.2 972.8 645.5 982.5 652.1 993.8 658.7 1004.6 664.1 1018.6 670.4 1044.7 680.6 1109.1 703.6 1122.7 708.9 1135.1 714.2 1145.9 719.4 1155.1 724.7 1162.2 730 1166.2 734 1168.8 737.9 1169.9 740.6 1170.3 743.2 1170.1 745.9 1169.3 748.5 1167.9 751.1 1165.9 753.8 1163.2 756.4 1156.1 761.7 1144.8 768.1 1133 773.6 1102.4 786.8 1094.3 790.8 1087.6 794.7 1082.7 798.7 1080.9 801.3 1080.4 802.6 1080.4 805.3 1081 806.6 1083.2 809.3 1086.7 811.7 1089.6 813.2 1099.8 817.2 1113.8 821.1 1131.3 825.1 1166.4 831.7 1198.9 837 1218.9 839.4 1232.9 840.1 1232.9 856.8 810.4 856.8 810.4 513.4 810.9 512.1 810.4 512.1 810.4 503 813.7 502.8 814 501.5 810.4 501.3 810.4 492.5 815.5 492.3 815.6 490.9 810.4 490.7 810.4 482 818.9 481.7 820.6 480.4 810.4 480.1Z"/>
<path fill="#20ffdf" d="M810.4 61.7 1232.9 61.7 1232.9 419.8 1158.8 421.8 1094.7 424.1 1038.7 426.7 988.6 429.7 938.6 433.6 894.6 438.1 872.5 441.3 868.4 442.1 858 444.7 848.3 446 842.4 447.4 828.4 448.2 810.4 448.1ZM810.4 451.3 810.4 450.8 814.4 450.7 824.4 450.8 830.4 451.3 830.9 451.3 832.4 452.6 836.6 454 835.1 455.3 828.4 456.1 820.2 456.6 818.5 457.9 810.4 458.2ZM810.4 461.9 816.4 462 828.4 464 830.7 464.5 830.9 465.9 824.4 466.7 817 467.2 817.9 468.5 810.4 468.7ZM810.4 472.5 810.4 472.1 812.4 472.1 822.4 472.6 834.6 475.1 835.3 476.4 825.9 477.7 826.9 479.1 810.4 479.6ZM810.4 483 810.4 482.4 812.4 482.4 822.4 482.6 829.4 483 839.2 485.7 839.5 487 831.4 488.3 831.7 489.6 822.4 490.2 810.4 490.3ZM810.4 493.6 810.4 492.9 816.4 492.9 826.4 493.1 832.5 493.6 841.1 496.2 841.4 497.6 833.7 498.9 834.1 500.2 832.4 500.4 824.4 500.9 810.4 500.9ZM810.4 504.2 810.4 503.4 816.4 503.4 826.4 503.4 834.4 504 838.4 504.9 844 506.8 844.5 508.1 838.5 509.4 839.3 510.8 834.4 511.4 824.4 511.8 810.4 511.6ZM810.4 514.7 810.4 513.9 824.4 513.6 834.4 513.9 841.6 514.7 848.4 517.4 848.9 518.7 844.3 520 844.9 521.3 840.4 522.2 835.4 522.6 836.4 524 842.4 524.6 846.2 525.3 851.5 527.9 851.7 529.3 847.4 530.6 847.7 531.9 840.4 533.2 840.8 534.5 848.5 535.9 853.4 538.5 853.7 539.8 850 541.1 850.4 542.5 845.2 543.8 846.1 545.1 852.1 546.4 856.9 549.1 857.5 550.4 854.9 551.7 855.7 553 852.8 554.3 854 555.7 858.2 557 862.5 559.6 863.3 560.9 861.9 562.3 862.8 563.6 861.7 564.9 863 566.2 865.9 567.6 869.7 570.2 870.8 571.5 870.3 572.8 871.5 574.2 871.4 575.5 872.8 576.8 878.6 580.8 879.8 582.1 880.2 583.4 881.5 584.7 882.2 586 889 591.3 893.8 596.6 901.5 603.2 905.2 607.2 912.4 613.8 936.9 638.9 946 646.8 953.1 652.1 961.2 657.4 970.5 662.6 981.1 667.9 992.9 673.2 1016.6 682.7 1073 703.6 1095.1 712.8 1105.7 718.1 1114.6 723.4 1121.5 728.7 1125.1 732.6 1126.9 735.3 1128 737.9 1128.5 740.6 1128.3 743.2 1127.5 745.9 1126.1 748.5 1124 751.1 1121.3 753.8 1114.1 759.1 1102 765.7 1087.2 772.3 1051.9 786.8 1043.5 790.8 1036.6 794.7 1031.5 798.7 1029.5 801.3 1028.9 802.6 1028.7 805.3 1029.1 806.6 1031 809.3 1032.5 810.6 1036.8 813.2 1042.7 815.8 1055 819.8 1077.1 825.1 1105 830.4 1161.4 839.6 1196.9 844.9 1206.9 845.9 1216.9 846.5 1224.9 846.5 1232.9 846.1 1232.9 856.8 810.4 856.8 810.4 565.8 811.4 564.9 810.4 564.9 810.4 555.8 813 555.7 814 554.3 810.4 554.2 810.4 545.4 816.6 545.1 817.3 543.8 810.4 543.5 810.4 534.9 819.4 534.5 819.5 533.2 810.4 532.9 810.4 524.3 821.4 524 822 522.6 810.4 522.3Z"/>
<path fill="#30ffcf" d="M810.4 61.7 1232.9 61.7 1232.9 416.8 1150.8 419.1 1080.7 421.7 1020.6 424.5 964.6 428.1 912.5 432.6 852.2 439.4 850.1 440.8 845.9 442.1 846 443.4 842.4 444.7 827.6 446 823.4 447.4 810.4 447.7 810.4 439.9 821 439.4 817.2 438.1 810.4 437.8ZM810.4 451.3 816.4 451.7 827.9 454 826.8 455.3 810.4 456.5ZM810.4 463.2 810.4 462.6 823.8 464.5 823.9 465.9 810.4 467ZM810.4 473.8 810.4 472.7 822.4 474.2 827.1 475.1 827.7 476.4 820.4 477.3 811.5 477.7 812.4 479.1 810.4 479.1ZM810.4 483 816.4 483.2 826.4 484.8 830.6 485.7 830.8 487 824.4 487.8 816.1 488.3 816.3 489.6 810.4 489.8ZM810.4 493.6 816.8 493.6 822.4 494.3 831.8 496.2 832 497.6 826.4 498.3 817.7 498.9 818 500.2 810.4 500.4ZM810.4 504.2 810.4 503.9 818.4 504.1 824.4 504.8 833.9 506.8 834.3 508.1 828.4 509 822.2 509.4 822.9 510.8 810.4 511.1ZM810.4 514.7 810.4 514.3 814.4 514.3 826.4 514.9 830.4 515.6 837.3 517.4 837.7 518.7 827.5 520 828 521.3 810.4 521.8ZM810.4 525.3 810.4 524.8 812.4 524.8 829.1 525.3 834.4 526.4 839.5 527.9 839.6 529.3 829.9 530.6 830.1 531.9 822.4 532.3 810.4 532.4ZM810.4 535.9 810.4 535.3 814.4 535.3 830.7 535.9 836.4 537 840.4 538.4 840.7 538.5 840.9 539.8 831.9 541.1 832.3 542.5 824.4 543 810.4 543ZM810.4 546.4 810.4 545.8 818.4 545.8 833.9 546.4 838.4 547.4 842.4 548.7 843.3 549.1 843.7 550.4 836.4 551.7 837.1 553 834.4 553.3 824.4 553.8 810.4 553.7ZM810.4 557 810.4 556.3 818.4 556.1 828.4 556.2 836.4 556.6 839.4 557 844.4 558.3 847.5 559.6 848.1 560.9 842.7 562.3 843.6 563.6 838.4 564.4 828.4 564.8 810.4 564.4ZM810.4 567.6 810.4 566.7 828.4 566.2 838.4 566.5 846.3 567.6 850.5 568.9 853.1 570.2 853.8 571.5 850.2 572.8 851.3 574.2 846.2 575.5 848.4 576.8 852.4 577.6 856.5 578.9 860 580.8 861 582.1 859.1 583.4 860.3 584.7 858.5 586 860.3 587.4 864.5 588.9 868.5 591.3 869.6 592.6 869 594 870.3 595.3 870.1 596.6 871.6 597.9 876.2 600.6 877.9 601.9 879 603.2 879.2 604.5 880.4 605.9 880.8 607.2 887.1 612.5 888.3 613.8 888.8 615.1 890.6 617.7 896 623 899.6 628.3 904.6 633.6 908.8 638.9 919.8 649.4 930.2 657.4 936.4 661.3 945.8 666.6 964.6 675.7 984.6 684 1034.8 703.6 1055.6 712.8 1065.6 718.1 1071.8 722.1 1078.4 727.4 1081.8 731.3 1083.4 734 1084.3 736.6 1084.6 739.3 1084.3 741.9 1083.3 744.5 1081.7 747.2 1079.4 749.8 1076.5 752.5 1068.9 757.7 1056.5 764.3 1041.5 771 1004.6 786.1 994.8 790.8 988 794.7 984.4 797.4 981.8 800 980.3 802.6 980 804 980.2 806.6 980.8 807.9 983.1 810.6 984.8 811.9 992.2 815.9 1004.6 820.2 1022.7 824.7 1044.5 829.1 1083.9 835.7 1170.8 849.4 1188.8 851.9 1200.9 853 1210.9 853.2 1220.9 852.6 1232.9 850.9 1232.9 856.8 810.4 856.8 810.4 597.4 812.2 596.6 810.4 596.5 810.4 587.5 812.5 587.4 815.2 586 810.4 585.8 810.4 577.1 817.1 576.8 819.9 575.5 810.4 575.1Z"/>
<path fill="#40ffbf" d="M810.4 61.7 1232.9 61.7 1232.9 413.9 1106.8 417.5 1056.7 419.5 1010.6 421.8 958.6 425.1 914.5 428.7 886.5 431.6 846.4 436.8 830.4 437.5 810.4 437.4 810.4 428.9 810.8 428.9 810.4 428.6ZM810.4 440.8 810.4 440.4 812.4 440.4 826.1 440.8 828.1 442.1 833.6 443.4 831.3 444.7 830.4 444.8 820.4 445.6 810.4 446ZM810.4 452.6 816.4 453.2 821.3 454 820.5 455.3 810.4 456.1ZM810.4 464.5 810.4 463.5 816.4 464.2 818.3 464.5 818.4 465.9 810.4 466.6ZM810.4 473.8 821 475.1 821.5 476.4 810.4 477.4ZM810.4 484.3 810.4 483.7 822.4 485.4 823.7 485.7 823.9 487 810.4 488.1ZM810.4 494.9 810.4 494.1 822.4 495.8 824.5 496.2 824.6 497.6 810.4 498.7ZM810.4 505.5 810.4 504.5 822.4 506 826.1 506.8 826.4 508.1 818.4 509 810.4 509.3ZM810.4 516 810.4 514.8 820.4 515.8 828.6 517.4 828.9 518.7 820.4 519.6 810.5 520 810.9 521.3 810.4 521.3ZM810.4 525.3 818.4 525.8 826.4 527 830.1 527.9 830.2 529.3 822.4 530.1 812.3 530.6 812.4 531.9 810.4 531.9ZM810.4 535.9 818.4 536.2 825.3 537.2 830.9 538.5 831 539.8 824.4 540.6 813.8 541.1 814.1 542.5 810.4 542.6ZM810.4 546.4 818.4 546.6 826.4 547.5 832.7 549.1 833 550.4 826.4 551.2 817.8 551.7 818.4 553 810.4 553.2ZM810.4 557 810.4 556.7 820.4 557 828.4 557.8 835.7 559.6 836.1 560.9 830.4 561.8 823.3 562.3 824.1 563.6 810.4 563.9ZM810.4 567.6 810.4 567.2 818.4 567.2 830.4 568 835.6 568.9 838.4 569.8 839.6 570.2 840.1 571.5 829.9 572.8 830.8 574.2 822.4 574.6 810.4 574.6ZM810.4 578.1 810.4 577.6 816.4 577.5 826.4 577.7 833.6 578.1 841 579.4 844.4 580.8 845.1 582.1 837.6 583.4 838.7 584.7 836.4 585 826.4 585.5 810.4 585.3ZM810.4 588.7 810.4 588 818.4 587.8 830.4 587.8 838.4 588.3 842.4 588.8 847.6 590 850.5 591.3 851.3 592.6 846.4 594 847.5 595.3 840.4 596.3 830.4 596.6 810.4 596ZM823.4 597.9 830.4 596.9 836.4 597 850.8 599.3 855.1 600.6 857.4 601.9 858.3 603.2 855.2 604.5 856.3 605.9 852.4 607.2 854.7 608.5 858.5 609.5 862.5 611.1 864.5 612.5 865.3 613.8 863.5 615.1 864.5 616.4 862.8 617.7 864.4 619.1 869.8 621.7 871.3 623 872.1 624.3 871.1 625.7 872 627 871.2 628.3 872.5 629.6 876.7 632.3 878 633.6 878.9 634.9 878.5 636.2 879.5 637.6 879.4 638.9 885.7 644.2 886.8 645.5 887.2 646.8 888.4 648.1 889.1 649.4 896 654.7 902 660 919.4 670.6 935.4 678.5 952.6 686.1 994.3 703.6 1013.6 712.8 1022.7 718.1 1028.4 722.1 1034.1 727.4 1036.8 731.3 1038.2 735.3 1038.4 737.9 1037.9 740.6 1036.8 743.2 1035.1 745.9 1032.8 748.5 1029.9 751.1 1024.4 755.1 1015.4 760.4 1004.6 765.7 955.9 786.8 945.9 792.1 940.1 796 936.1 800 934.7 802.6 934.4 804 934.2 805.3 934.9 807.9 936.8 810.6 938.3 811.9 944.6 815.9 954.5 819.8 968.1 823.8 985.7 827.7 1022.8 834.3 1115.9 848.9 1160.8 856.8 810.4 856.8 810.4 660.1 810.8 660 810.4 660 810.4 650 812.4 649.4 810.4 649.3 810.4 639.9 813.9 638.9 810.4 638.7 810.4 629.7 815.5 628.3 810.4 628 810.4 619.2 813.3 619.1 817.5 617.7 810.4 617.4 810.4 608.8 816.7 608.5 821 607.2 810.4 606.7 810.4 598.4ZM1230.2 855.5 1232.9 854.8 1232.9 856.8 1224.6 856.8Z"/>
<path fill="#50ffaf" d="M810.4 61.7 1232.9 61.7 1232.9 410.8 1154.8 412.8 1086.7 415 1028.7 417.4 978.6 420.1 926.5 423.9 872.3 428.9 854.4 431.5 851.4 432.8 845.8 434.2 826.7 435.5 819.9 436.8 810.4 437 810.4 429.4 820.5 428.9 817.4 427.6 810.4 427.2ZM810.4 442.1 810.4 441.3 825 443.4 823.4 444.7 810.4 445.6ZM810.4 454 810.4 453.2 816.1 454 815.5 455.3 810.4 455.8ZM810.4 464.5 810.4 464 813.9 464.5 814 465.9 810.4 466.2ZM810.4 475.1 810.4 474.3 816.2 475.1 816.5 476.4 810.4 477ZM810.4 485.7 810.4 484.5 816.4 485.3 818.2 485.7 818.3 487 810.4 487.7ZM810.4 496.2 810.4 495 816.4 495.8 818.8 496.2 818.9 497.6 810.4 498.3ZM810.4 505.5 820 506.8 820.2 508.1 810.4 509ZM810.4 516 810.4 515.6 812.4 515.9 821.9 517.4 822.1 518.7 810.4 519.6ZM810.4 526.6 810.4 526 820.4 527.4 822.9 527.9 823 529.3 810.4 530.2ZM810.4 537.2 810.4 536.5 820.4 537.8 823.4 538.5 823.5 539.8 810.4 540.8ZM810.4 547.7 810.4 546.9 820.4 548.1 824.8 549.1 825 550.4 810.4 551.5ZM810.4 558.3 810.4 557.3 821 558.3 826.9 559.6 827.2 560.9 820.4 561.7 810.4 562.1ZM810.4 568.9 810.4 567.7 822.4 568.6 829.5 570.2 829.9 571.5 822.4 572.3 810.4 572.8ZM810.4 578.1 820.4 578.5 828 579.4 832.8 580.8 833.2 582.1 826.4 582.9 815.8 583.4 816.7 584.7 810.4 584.9ZM810.4 588.7 810.4 588.5 819.5 588.7 830.4 589.7 832.6 590 836.8 591.3 837.3 592.6 830.4 593.5 823.3 594 824.3 595.3 810.4 595.6ZM810.4 599.3 810.4 598.9 820.4 599 832.4 599.7 838.4 600.8 841.3 601.9 841.8 603.2 836.4 604.1 830.8 604.5 831.7 605.9 822.4 606.2 810.4 606.3ZM810.4 609.8 810.4 609.3 822.4 609.3 836.4 610 842.9 611.1 845.8 612.5 846.4 613.8 837.7 615.1 838.6 616.4 836.4 616.6 826.4 617 810.4 616.9ZM810.4 620.4 810.4 619.8 820.4 619.6 830.4 619.6 838.4 620.1 847.8 621.7 850.2 623 850.8 624.3 844 625.7 844.7 627 840.4 627.5 830.4 627.9 810.4 627.6ZM810.4 630.9 810.4 630.2 830.4 629.8 840.4 630.1 846.4 630.9 852.6 632.3 854.6 633.6 855.2 634.9 850 636.2 850.8 637.6 844.4 638.5 834.4 638.8 810.4 638.2ZM823.9 640.2 832.4 639.3 838.4 639.2 850.4 640.9 858 642.8 859.8 644.2 860.6 645.5 857.1 646.8 858 648.1 853.4 649.4 856.6 650.8 864.5 653.1 867.1 654.7 868.3 656 866.7 657.4 868.1 658.7 867.1 660 876.2 664 880 666.6 880.5 667.9 882.4 669.3 883.7 670.6 891.9 674.5 903.4 681.1 948.7 702.3 966.6 711.5 975.1 716.8 980.4 720.8 985.6 726 988.2 730 989.4 734 989.5 736.6 989 739.3 987.9 741.9 986.3 744.5 984 747.2 981.3 749.8 976.1 753.8 967.8 759.1 957.9 764.3 910.5 786.8 905.9 789.4 894.6 797.4 893 800 893.1 801.3 892.3 804 891.4 805.3 891.2 807.9 893.5 810.6 899.9 815.9 904.7 818.5 908.1 819.8 920.1 823.8 932.5 827.1 948 830.4 978.6 835.8 1072 850.2 1108 856.8 810.4 856.8 810.4 829.2 811.4 829.1 810.4 828.9 810.4 818.9 815 818.5 810.4 817.9 810.4 808.5 816.9 807.9 810.4 807.3 810.4 798 816.4 797.4 810.4 796.8 810.4 787.2 814.1 786.8 810.4 786.4 810.4 776.4 811.8 776.2 810.4 776.1 810.4 691.9 811.6 691.7 810.4 691.6 810.4 681.8 813.8 681.1 810.4 680.9 810.4 671.8 816.8 670.6 810.4 670.2 810.4 661.5 813.8 661.3 820.7 660 810.4 659.5 810.4 651.1 818.1 650.8 825.7 649.4 810.4 648.8 810.4 640.7Z"/>
<path fill="#60ff9f" d="M810.4 61.7 1232.9 61.7 1232.9 407.7 1114.8 410.8 1020.6 414.2 976.6 416.5 934.5 419.2 906.5 421.5 852.4 426.7 836.4 427.2 810.4 426.8 810.4 418.5 813.5 418.3 812.4 417 810.4 416.9ZM810.4 430.2 810.4 429.9 814.4 429.9 828.9 430.2 829.2 431.5 835.2 432.8 832 434.2 822.4 434.9 810.4 435.3ZM810.4 443.4 810.4 442.4 818.6 443.4 817.5 444.7 810.4 445.3ZM810.4 454 810.4 453.7 811.9 454 811.5 455.3 810.4 455.4ZM810.4 475.1 810.4 474.8 812.1 475.1 812.4 476.4 810.4 476.6ZM810.4 485.7 810.4 485.1 813.8 485.7 813.9 487 810.4 487.3ZM810.4 496.2 810.4 495.6 814.2 496.2 814.2 497.6 810.4 497.9ZM810.4 506.8 810.4 506 815.1 506.8 815.3 508.1 810.4 508.6ZM810.4 517.4 810.4 516.4 816.6 517.4 816.7 518.7 810.4 519.3ZM810.4 527.9 810.4 526.8 816.4 527.7 817.3 527.9 817.4 529.3 810.4 529.9ZM810.4 538.5 810.4 537.2 814.4 537.8 817.7 538.5 817.8 539.8 810.4 540.5ZM810.4 547.7 818.7 549.1 818.9 550.4 810.4 551.1ZM810.4 558.3 810.4 558 813.4 558.3 820.2 559.6 820.5 560.9 810.4 561.8ZM810.4 568.9 810.4 568.3 812.4 568.5 820.4 569.8 822.1 570.2 822.4 571.5 810.4 572.4ZM810.4 579.4 810.4 578.7 818.6 579.4 824.4 580.8 824.7 582.1 810.4 583.1ZM810.4 590 810.4 589 821.8 590 827.1 591.3 827.4 592.6 820.4 593.3 810.4 593.8ZM810.4 600.6 810.4 599.4 825.3 600.6 829.9 601.9 830.3 603.2 822.4 604 810.4 604.5ZM810.4 611.1 810.4 609.9 826.4 610.8 828.6 611.1 832.7 612.5 833.1 613.8 824.4 614.7 811.5 615.1 812.2 616.4 810.4 616.5ZM810.4 620.4 822.4 620.7 831.7 621.7 835.4 623 835.7 624.3 826.4 625.3 816.4 625.7 817 627 810.4 627.1ZM810.4 630.9 822.4 631.1 832.4 631.9 834.6 632.3 837.9 633.6 838.2 634.9 830.4 635.8 821.1 636.2 821.7 637.6 810.4 637.7ZM810.4 641.5 810.4 641.3 822.4 641.5 834.4 642.3 837.9 642.8 840.4 644 840.8 644.2 841.3 645.5 834.4 646.4 826.7 646.8 826.7 648.1 810.4 648.4ZM810.4 652.1 810.4 651.7 822.4 651.8 836.4 652.6 842.3 653.4 845 654.7 845.7 656 840.4 656.9 834.4 657.4 834.4 658.7 824.4 659 810.4 659ZM810.4 662.6 810.4 662.1 824.4 662 832.4 662.2 840.4 662.7 849.1 664 851.6 665.3 852.7 666.6 845.8 667.9 846.6 669.3 842.4 669.7 832.4 670 810.4 669.7ZM832.9 671.9 846.4 672.3 854.5 673.5 859.5 674.5 861.9 675.9 863.5 677.2 860.9 678.5 862.6 679.8 860.5 681.1 874.2 685.1 878.8 687.7 879.3 689.1 881.5 690.4 882.9 691.7 894.9 697 903.4 702.3 911 706.2 915.4 708.9 928.2 718.1 932.1 722.1 934.2 724.7 935.9 727.4 937.1 730 937.7 734 937.3 737.9 936.3 740.6 934.8 743.2 930.5 748.5 926.5 752 916.8 759.1 894.3 772.3 884.8 776.2 881.1 778.9 880.6 780.2 876.3 782.8 868 785.5 862.7 786.8 863.1 788.1 863.1 789.4 865.7 790.8 863.1 793.4 851.3 796 844.4 796.8 834.4 796.9 810.4 795.9 810.4 788.1 828.3 786.8 810.4 785.7 810.4 777.3 821.6 776.2 810.4 775.4 810.4 766.6 818.2 765.7 810.4 765 810.4 755.9 816.2 755.1 810.4 754.6 810.4 745.2 815.2 744.5 810.4 744.1 810.4 734.6 814.8 734 810.4 733.6 810.4 724.1 815 723.4 810.4 723 810.4 713.7 815.9 712.8 810.4 712.4 810.4 703.5 817.9 702.3 810.4 701.7 810.4 693.2 821.3 691.7 810.4 691.1 810.4 682.8 818.1 682.5 827.9 681.1 810.4 680.4 810.4 672.5ZM812.8 798.7 832.4 797.9 842.4 798 848.8 798.7 852.3 800 858.5 801.3 858 804 844.4 806.8 832.4 807.2 810.4 806.4 810.4 798.8ZM811.4 809.3 836.4 808.6 847.8 809.3 852.6 810.6 859.8 811.9 861.6 814.5 857.6 815.9 856.3 817.2 854.1 818.5 862.5 819.8 873.3 822.5 879.7 825.1 882 826.4 891 829.1 914.5 833.9 932 837 1017.9 850.2 1054.7 856.8 810.4 856.8 810.4 840 814.1 839.6 810.4 839.1 810.4 829.8 820.8 829.1 810.4 827.9 810.4 819.6 832.8 818.5 810.4 817 810.4 809.3Z"/>
<path fill="#70ff8f" d="M810.4 61.7 1232.9 61.7 1232.9 404.6 1078.7 408.5 1018.6 410.5 970.6 412.7 930.5 415 890.5 418.1 864 420.9 851.6 423.6 840.4 424.5 829.9 424.9 820.4 426.2 810.4 426.3 810.4 419 824.8 418.3 822.1 417 810.4 416.4 810.4 408 813.9 407.7 813.3 406.4 810.4 406.2ZM810.4 431.5 810.4 431.1 825.1 432.8 823 434.2 810.4 435ZM810.4 443.4 810.4 442.9 813.8 443.4 812.9 444.7 810.4 444.9ZM810.4 506.8 811.1 506.8 811.3 508.1 810.4 508.2ZM810.4 517.4 810.4 517 812.3 517.4 812.4 518.7 810.4 518.9ZM810.4 527.9 810.4 527.5 812.9 527.9 812.9 529.3 810.4 529.5ZM810.4 538.5 810.4 538 813.2 538.5 813.2 539.8 810.4 540.1ZM810.4 549.1 810.4 548.4 813.9 549.1 814.1 550.4 810.4 550.7ZM810.4 559.6 810.4 558.7 815.1 559.6 815.3 560.9 810.4 561.4ZM810.4 570.2 810.4 569 814.4 569.7 816.5 570.2 816.7 571.5 810.4 572.1ZM810.4 579.4 812.4 579.6 818.1 580.8 818.4 582.1 810.4 582.7ZM810.4 590 810.4 589.6 814.1 590 820 591.3 820.3 592.6 810.4 593.4ZM810.4 600.6 810.4 600 818.4 601 822 601.9 822.2 603.2 810.4 604.1ZM810.4 611.1 810.4 610.4 818.9 611.1 823.9 612.5 824.1 613.8 810.4 614.7ZM810.4 621.7 810.4 620.9 821.1 621.7 825.5 623 825.7 624.3 810.4 625.4ZM810.4 632.3 810.4 631.3 823 632.3 827 633.6 827.2 634.9 810.4 636ZM810.4 642.8 810.4 641.8 825.1 642.8 828.8 644.2 829 645.5 820.4 646.2 810.4 646.6ZM810.4 653.4 810.4 652.3 820.4 652.7 827.7 653.4 831.1 654.7 831.5 656 822.4 656.9 810.4 657.3ZM810.4 664 810.4 662.7 828.4 663.6 831.5 664 834.4 665.2 835.3 666.6 824.4 667.6 810.4 668ZM810.4 673.2 824.4 673.5 836.4 674.4 840 675.9 840.8 677.2 832.4 678.1 822.4 678.5 816.4 679.6 810.4 679.8ZM810.4 683.8 810.4 683.5 824.4 683.6 840.4 684.5 844.8 685.1 847.4 686.4 848.5 687.7 842.4 688.7 836.9 689.1 834.9 690.4 810.4 690.5ZM810.4 694.3 810.4 693.8 824.4 693.6 834.4 693.7 842.4 694.1 854.9 695.7 857.3 697 858.6 698.3 852.7 699.6 853 700.9 846.4 701.7 836.4 701.8 810.4 701.2ZM828.2 703.6 838.4 703 846.4 703.1 856.5 704.2 866.5 706.2 869.8 708.9 867.3 710.2 868.1 711.5 866 712.8 877.1 716.8 879.5 719.4 878.1 720.8 878.5 722.1 877.5 723.4 883.4 727.4 884 728.7 884.3 730 882.6 731.3 882.3 732.6 880.8 734 882.4 736.6 883.8 737.9 883.6 739.3 883.1 740.6 880.4 741.9 879.1 743.2 876.4 744.5 876.9 747.2 878.4 748.5 876.5 751.1 872.1 752.5 869.6 753.8 864.1 755.1 866.2 757.7 869 759.1 866.4 761.7 859.2 763 854.2 764.3 846.4 765 834.4 765 810.4 764.3 810.4 756.8 833.7 755.1 810.4 753.9 810.4 746.2 818.4 745.7 829.3 744.5 810.4 743.5 810.4 735.6 818.4 735.1 827.9 734 810.4 733 810.4 725.1 817.5 724.7 828.6 723.4 810.4 722.4 810.4 714.6 820.4 714.2 832.3 712.8 810.4 711.8 810.4 704.2ZM824.5 767 836.4 766.6 844.4 766.8 848.4 767.3 858.1 769.6 855.6 772.3 838.4 774.3 828.4 774.7 810.4 774.5 810.4 767.5ZM810.4 778.9 810.4 778.3 828.4 778.3 842.4 779.3 848.4 780.2 846.4 782.8 844.4 783.1 836.4 783.8 824.4 784.4 810.4 784.6ZM810.4 789.4 810.4 789.1 812.4 789.2 828.4 789.6 841.1 790.8 839.8 793.4 828.4 794.4 810.4 794.9ZM810.4 800 826.4 800.4 837.6 801.3 837.4 804 826.4 804.9 810.4 805.4ZM810.4 810.6 826.4 810.9 838.2 811.9 839 814.5 828.4 815.5 810.4 816ZM810.4 821.1 810.4 820.7 818.4 820.9 840.4 822 844.6 822.5 847.4 825.1 842.4 825.9 830.4 826.9 810.4 827ZM817 830.4 841.1 830.4 862.5 832.8 873.1 835.7 876.2 837 886.5 839.1 967.6 851.5 997.1 856.8 810.4 856.8 810.4 850.7 816.6 850.2 810.4 849.2 810.4 840.6 826 839.6 818.4 838.6 810.4 838 810.4 830.6Z"/>
<path fill="#80ff80" d="M810.4 61.7 1232.9 61.7 1232.9 401.3 1098.7 404.3 998.6 407.2 954.6 408.9 918.5 410.7 896.5 412.2 852.4 415.8 836.4 416.2 810.4 416 810.4 408.5 823.9 407.7 822.4 406.4 810.4 405.8 810.4 397.5 814.9 397.2 814 395.9 810.4 395.6ZM810.4 419.6 823.4 419.6 827.6 420.9 832.4 421.4 836.6 422.3 833.3 423.6 822.4 424.3 810.4 424.7ZM810.4 432.8 810.4 431.9 818.2 432.8 816.8 434.2 810.4 434.6ZM810.4 559.6 811 559.6 811.1 560.9 810.4 561ZM810.4 570.2 810.4 569.8 812.1 570.2 812.2 571.5 810.4 571.7ZM810.4 580.8 810.4 580.1 813.3 580.8 813.5 582.1 810.4 582.4ZM810.4 591.3 810.4 590.4 814.8 591.3 814.9 592.6 810.4 593.1ZM810.4 601.9 810.4 600.6 812.4 601 816.2 601.9 816.3 603.2 810.4 603.7ZM810.4 611.1 812.1 611.1 817.5 612.5 817.6 613.8 810.4 614.4ZM810.4 621.7 810.4 621.4 813.7 621.7 818.6 623 818.8 624.3 810.4 625ZM810.4 632.3 810.4 631.8 816.4 632.6 819.6 633.6 819.8 634.9 810.4 635.6ZM810.4 642.8 810.4 642.3 816.6 642.8 820.8 644.2 820.9 645.5 810.4 646.3ZM810.4 653.4 810.4 652.8 818.4 653.4 822.2 654.7 822.5 656 810.4 656.9ZM810.4 664 810.4 663.2 820.9 664 824.4 665.3 824.8 666.6 810.4 667.6ZM810.4 674.5 810.4 673.6 824.2 674.5 827.4 675.9 827.9 677.2 810.4 678.2ZM810.4 685.1 810.4 684 828.3 685.1 831.2 686.4 831.8 687.7 822.4 688.5 810.4 688.9ZM810.4 695.7 810.4 694.5 830.4 695.4 833.2 695.7 835.8 697 836.3 698.3 826.4 699.2 810.4 699.6ZM810.4 706.2 810.4 704.9 824.4 705.2 834.4 705.8 838.1 706.2 840.3 707.6 840.9 708.9 830.4 709.8 810.4 710.4ZM810.4 715.5 828.4 715.7 840.4 716.5 842.5 716.8 844.2 718.1 844.6 719.4 834.4 720.4 810.4 721.2ZM810.4 726 828.4 726.1 842.4 727 845.1 727.4 846.2 728.7 846.3 730 834.4 731 810.4 731.8ZM810.4 736.6 820.4 736.5 838.4 737.2 845.3 737.9 845.9 739.3 845.7 740.6 840.4 741.2 830.4 741.7 810.4 742.2ZM810.4 747.2 824.4 747.2 836.4 747.8 843.3 748.5 843.5 749.8 843.1 751.1 838.4 751.6 828.4 752.2 810.4 752.6ZM810.4 757.7 824.4 758 834.4 758.5 839.8 759.1 839.8 760.4 839.2 761.7 834.4 762.2 824.4 762.7 810.4 763ZM810.4 769.6 810.4 768.4 824.4 768.7 835.6 769.6 834.8 772.3 824.4 773.1 810.4 773.5ZM810.4 780.2 810.4 779 822.4 779.4 831.5 780.2 830.5 782.8 822.4 783.5 810.4 783.9ZM810.4 790.8 810.4 789.7 827.8 790.8 827.1 793.4 810.4 794.4ZM810.4 801.3 810.4 800.3 825.9 801.3 825.8 804 810.4 804.9ZM810.4 811.9 810.4 810.9 826.3 811.9 826.6 814.5 810.4 815.5ZM810.4 822.5 810.4 821.4 829.6 822.5 830.7 825.1 822.4 825.8 810.4 826.3ZM810.4 833 810.4 831.8 824.4 832.1 834.4 832.7 838.1 833 841.1 835.7 830.4 836.7 810.4 837.1ZM810.4 842.3 810.4 841.6 830.4 841.5 850.4 842.6 861 843.6 878.5 848.1 916.5 854.1 931.2 856.8 810.4 856.8 810.4 851.3 831.2 850.2 821.7 848.9 810.4 848.3Z"/>
<path fill="#8fff70" d="M810.4 61.7 1232.9 61.7 1232.9 398 1010.6 402.6 872.5 406.4 860.5 406.5 810.4 405.3 810.4 398 824.4 397.2 822.8 395.9 810.4 395.1 810.4 386.9 814.3 386.6 813.5 385.3 810.4 385 810.4 175.3 810.9 175.3 810.6 174 810.4 173.9 810.4 164.8 811.4 164.7 810.8 163.4 810.4 163.4 810.4 154.3 811.7 154.2 810.9 152.8 810.4 152.8 810.4 143.7 812 143.6 810.8 142.3 810.4 142.2 810.4 133.2 812.3 133 810.4 131.7 810.4 122.6 812.5 122.5 810.4 121.1 810.4 112.1 812.7 111.9 810.4 110.6 810.4 101.5 812.9 101.3 810.4 100.1 810.4 91 813 90.8 810.4 89.7 810.4 80.4 813 80.2 810.4 79.2 810.4 69.8 812.8 69.6 810.4 68.8ZM810.4 409.1 837.5 409.1 837.6 410.4 842.4 410.8 846.5 411.7 842.4 413 838.4 413.3 826.4 414 810.4 414.3ZM810.4 422.3 810.4 421 818.4 421.5 824.9 422.3 823.1 423.6 810.4 424.4ZM810.4 432.8 810.4 432.5 813.1 432.8 812 434.2 810.4 434.3ZM810.4 591.3 810.7 592.6 810.4 592.7ZM810.4 601.9 810.4 601.6 811.7 601.9 811.8 603.2 810.4 603.3ZM810.4 612.5 810.4 611.9 812.6 612.5 812.8 613.8 810.4 614ZM810.4 623 810.4 622.2 813.5 623 813.6 624.3 810.4 624.6ZM810.4 633.6 810.4 632.5 814.2 633.6 814.3 634.9 810.4 635.3ZM810.4 642.8 815 644.2 815.2 645.5 810.4 645.9ZM810.4 653.4 812 653.4 816.1 654.7 816.2 656 810.4 656.5ZM810.4 664 810.4 663.7 813.8 664 816.4 664.9 817.6 665.3 817.8 666.6 810.4 667.2ZM810.4 674.5 810.4 674.1 816.1 674.5 819.5 675.9 819.8 677.2 810.4 677.9ZM810.4 685.1 810.4 684.5 818.8 685.1 821.8 686.4 822.1 687.7 810.4 688.5ZM810.4 695.7 810.4 694.9 821.6 695.7 824.3 697 824.7 698.3 810.4 699.2ZM810.4 706.2 810.4 705.4 824.3 706.2 826.7 707.6 826.9 708.9 810.4 709.9ZM810.4 716.8 810.4 715.8 826.5 716.8 828.5 718.1 828.6 719.4 810.4 720.5ZM810.4 727.4 810.4 726.4 827.8 727.4 829.3 728.7 829.3 730 810.4 731ZM810.4 737.9 810.4 736.9 828.1 737.9 829.2 739.3 829.1 740.6 810.4 741.6ZM810.4 748.5 810.4 747.5 822.4 748.1 827.4 748.5 828.1 749.8 827.9 751.1 810.4 752.1ZM810.4 759.1 810.4 758.1 822.4 758.7 826 759.1 826.3 760.4 826.1 761.7 810.4 762.6ZM810.4 769.6 810.4 768.8 822.4 769.5 824 769.6 824.1 771 823.8 772.3 810.4 773.1ZM810.4 780.2 810.4 779.4 821.9 780.2 821.4 782.8 810.4 783.6ZM810.4 790.8 810.4 790.1 819.7 790.8 819.2 793.4 810.4 794ZM810.4 801.3 810.4 800.7 818.5 801.3 818.4 804 810.4 804.6ZM810.4 811.9 810.4 811.3 818.7 811.9 818.8 814.5 810.4 815.2ZM810.4 822.5 810.4 821.7 820.8 822.5 821.2 823.8 821.2 825.1 810.4 825.9ZM810.4 833 810.4 832.1 825.5 833 826.3 834.3 826.5 835.7 810.4 836.6ZM810.4 843.6 810.4 842.5 824.4 842.9 834.8 843.6 836.5 844.9 837.5 846.2 826.4 847.1 810.4 847.5ZM810.4 852.8 810.4 852.6 812.4 852.6 832.4 852.9 848.4 853.6 854.1 854.2 860.1 856.8 810.4 856.8Z"/>
<path fill="#9fff60" d="M810.4 61.7 1232.9 61.7 1232.9 394.5 992.6 398.4 850.4 399.5 843.7 399.8 850.4 400.2 853.8 401.1 846.3 402.5 830.4 403.2 810.4 403.6 810.4 398.5 840.4 398.2 846.4 397.8 849.9 397.2 840.4 395.7 810.4 394.7 810.4 387.4 822.7 386.6 821.3 385.3 810.4 384.6 810.4 376.4 815.4 376 815 374.7 810.4 374.4 810.4 365.7 813.1 365.5 812.9 364.2 810.4 363.9 810.4 355.1 812.1 354.9 812 353.6 810.4 353.4 810.4 344.5 811.7 344.3 811.6 343 810.4 342.9 810.4 333.8 811.2 333.8 811.1 332.5 810.4 332.4 810.4 281 811.2 280.9 811.3 279.6 810.4 279.5 810.4 270.5 812 270.4 812.1 269.1 810.4 268.9 810.4 260 812.8 259.8 812.8 258.5 810.4 258.3 810.4 249.5 813.2 249.2 813.2 247.9 810.4 247.7 810.4 238.9 813.5 238.7 813.6 237.4 810.4 237.1 810.4 228.4 813.9 228.1 813.9 226.8 810.4 226.5 810.4 217.9 814.3 217.6 814.4 216.2 810.4 215.9 810.4 207.3 814.9 207 814.9 205.7 810.4 205.3 810.4 196.8 815.5 196.4 815.6 195.1 810.4 194.7 810.4 186.3 816.2 185.9 816.3 184.5 810.4 184.1 810.4 175.8 817 175.3 816.8 174 810.4 173.5 810.4 165.3 817.8 164.7 817.3 163.4 810.4 162.9 810.4 154.7 818.4 154.2 817.6 152.8 810.4 152.3 810.4 144.2 818.9 143.6 817.7 142.3 810.4 141.7 810.4 133.6 819.3 133 817.8 131.7 810.4 131.2 810.4 123.1 819.6 122.5 817.7 121.1 810.4 120.6 810.4 112.5 819.9 111.9 817.7 110.6 810.4 110 810.4 102 820.1 101.3 817.6 100 810.4 99.5 810.4 91.4 820.3 90.8 817.4 89.4 810.4 88.9 810.4 80.9 820.3 80.2 816.9 78.9 810.4 78.4 810.4 70.3 820 69.6 816.1 68.3 810.4 67.9ZM810.4 411.7 810.4 410.5 820.4 410.9 828.1 411.7 826.6 413 810.4 413.9ZM810.4 422.3 810.4 421.5 817.6 422.3 816.3 423.6 810.4 424ZM810.4 644.2 810.6 644.2 810.7 645.5 810.4 645.5ZM810.4 654.7 810.4 654.4 811.4 654.7 811.5 656 810.4 656.1ZM810.4 665.3 810.4 664.5 812.5 665.3 812.7 666.6 810.4 666.8ZM810.4 675.9 810.4 674.5 813.9 675.9 814.1 677.2 810.4 677.5ZM810.4 685.1 812.3 685.1 815.5 686.4 815.7 687.7 810.4 688.2ZM810.4 695.7 810.4 695.3 814.4 695.7 817.2 697 817.4 698.3 810.4 698.8ZM810.4 706.2 810.4 705.8 816.2 706.2 818.6 707.6 818.8 708.9 810.4 709.5ZM810.4 716.8 810.4 716.3 817.7 716.8 819.7 718.1 819.8 719.4 810.4 720.1ZM810.4 727.4 810.4 726.8 818.5 727.4 820.2 728.7 820.2 730 810.4 730.7ZM810.4 737.9 810.4 737.3 818.8 737.9 820.1 739.3 820 740.6 810.4 741.2ZM810.4 748.5 810.4 747.9 818.6 748.5 819.5 749.8 819.4 751.1 810.4 751.8ZM810.4 759.1 810.4 758.5 817.9 759.1 818.4 760.4 818.2 761.7 810.4 762.3ZM810.4 769.6 810.4 769.1 816.8 769.6 817 771 816.8 772.3 810.4 772.8ZM810.4 780.2 810.4 779.8 815.5 780.2 815.2 782.8 810.4 783.2ZM810.4 790.8 810.4 790.5 814 790.8 813.7 793.4 810.4 793.7ZM810.4 801.3 810.4 801.1 813.1 801.3 813.1 804 810.4 804.2ZM810.4 811.9 810.4 811.6 813.3 811.9 813.3 814.5 810.4 814.8ZM810.4 822.5 810.4 822.1 814.7 822.5 815 823.8 814.9 825.1 810.4 825.5ZM810.4 833 810.4 832.5 817.9 833 818.4 834.3 818.1 835.7 810.4 836.2ZM810.4 843.6 810.4 842.8 823.1 843.6 823.9 844.9 823.8 846.2 810.4 847.1ZM810.4 854.2 810.4 853.1 824.4 853.7 830.8 854.2 831.8 855.5 831.4 856.8 810.4 856.8Z"/>
<path fill="#afff50" d="M810.4 61.7 1232.9 61.7 1232.9 390.9 1102.7 392.8 1016.6 393.6 944.6 393.5 866.5 392.3 810.4 393.1 810.4 387.9 828.4 387.6 839.2 386.6 835.7 385.3 824.4 384.6 810.4 384.2 810.4 376.9 823.9 376 823.1 374.7 810.4 373.9 810.4 366.2 820 365.5 819.7 364.2 810.4 363.5 810.4 355.5 818.5 354.9 818.4 353.6 810.4 353 810.4 344.9 817.8 344.3 817.8 343 810.4 342.4 810.4 334.3 817.1 333.8 817 332.5 810.4 331.9 810.4 323.7 816.2 323.2 816.1 321.9 810.4 321.4 810.4 313.1 815.7 312.6 815.6 311.3 810.4 310.9 810.4 302.5 815.5 302.1 815.5 300.8 810.4 300.3 810.4 292 816 291.5 816.1 290.2 810.4 289.7 810.4 281.5 817.1 280.9 817.2 279.6 810.4 279.1 810.4 271 818.3 270.4 818.4 269.1 810.4 268.4 810.4 260.5 819.4 259.8 819.5 258.5 810.4 257.8 810.4 250 820.1 249.2 820.1 247.9 810.4 247.2 810.4 239.4 820.6 238.7 820.6 237.4 810.4 236.6 810.4 228.9 821.2 228.1 821.3 226.8 810.4 226 810.4 218.3 821.9 217.6 822 216.2 810.4 215.4 810.4 207.8 822.7 207 822.8 205.7 810.4 204.8 810.4 197.3 823.8 196.4 823.9 195.1 810.4 194.2 810.4 186.8 825.1 185.9 825.2 184.5 810.4 183.6 810.4 176.2 826.4 175.3 826.3 174 810.4 173 810.4 165.7 827.7 164.7 827.4 163.4 810.4 162.4 810.4 155.2 828.9 154.2 828.2 152.8 810.4 151.8 810.4 144.7 829.8 143.6 828.8 142.3 810.4 141.2 810.4 134.1 822.4 133.7 830.6 133 829.3 131.7 810.4 130.6 810.4 123.6 822.4 123.1 831.3 122.5 829.7 121.1 810.4 120.1 810.4 113 822.4 112.6 831.9 111.9 830 110.6 820.4 109.8 810.4 109.5 810.4 102.5 822.4 102.1 832.4 101.3 830.2 100 822.4 99.4 810.4 98.9 810.4 91.9 822.4 91.5 832.8 90.8 830.2 89.4 822.4 88.8 810.4 88.3 810.4 81.3 822.4 81 832.8 80.2 829.8 78.9 820.4 78.1 810.4 77.8 810.4 70.8 822.4 70.4 832.1 69.6 828.7 68.3 810.4 67.2ZM810.4 401.1 810.4 400 827.5 401.1 826 402.5 810.4 403.3ZM810.4 411.7 810.4 410.9 819 411.7 818.2 413 810.4 413.6ZM810.4 422.3 810.4 422 812.3 422.3 811.5 423.6 810.4 423.7ZM810.4 686.4 810.8 686.4 811 687.7 810.4 687.8ZM810.4 697 810.4 696.2 812 697 812.2 698.3 810.4 698.5ZM810.4 706.2 813.1 707.6 813.2 708.9 810.4 709.1ZM810.4 716.8 811.7 716.8 813.8 718.1 813.9 719.4 810.4 719.7ZM810.4 727.4 812.4 727.4 814.1 728.7 814.1 730 810.4 730.3ZM810.4 737.9 812.7 737.9 814 739.3 814 740.6 810.4 740.9ZM810.4 748.5 812.7 748.5 813.6 749.8 813.6 751.1 810.4 751.4ZM810.4 759.1 812.3 759.1 812.9 760.4 812.8 761.7 810.4 761.9ZM810.4 769.6 811.6 769.6 811.7 772.3 810.4 772.4ZM810.4 780.2 810.7 780.2 810.4 782.8ZM810.4 833 812.5 833 812.9 834.3 812.4 835.7 810.4 835.8ZM810.4 843.6 810.4 843.2 816 843.6 816.5 844.9 816 846.2 810.4 846.7ZM810.4 854.2 810.4 853.5 820.5 854.2 821 855.5 820 856.8 810.4 856.8Z"/>
<path fill="#bfff40" d="M810.4 63 810.4 61.9 834.4 62 847.2 61.7 1232.9 61.7 1232.9 387.2 1088.7 388.7 1034.7 388.8 988.6 388.6 948.6 387.9 912.5 386.7 863.8 384 847.5 382.6 810.4 382.5 810.4 377.6 830.4 376.9 839.4 376 837.6 374.7 834.4 374.4 824.4 373.8 810.4 373.5 810.4 366.6 822.4 366.2 830.8 365.5 830.3 364.2 822.4 363.5 810.4 363 810.4 356 828.1 354.9 827.9 353.6 810.4 352.5 810.4 345.4 826.9 344.3 826.7 343 810.4 342 810.4 334.8 825.7 333.8 825.5 332.5 810.4 331.5 810.4 324.2 824.3 323.2 824.1 321.9 810.4 321 810.4 313.5 823.4 312.6 823.3 311.3 810.4 310.4 810.4 303 823.1 302.1 823.1 300.8 810.4 299.9 810.4 292.4 823.9 291.5 824.1 290.2 810.4 289.3 810.4 281.9 825.6 280.9 825.8 279.6 810.4 278.6 810.4 271.4 827.6 270.4 827.8 269.1 810.4 268 810.4 260.9 820.4 260.6 829.5 259.8 829.7 258.5 820.4 257.7 810.4 257.4 810.4 250.4 822.4 250 830.7 249.2 830.8 247.9 822.4 247.2 810.4 246.8 810.4 239.9 822.4 239.5 831.7 238.7 831.8 237.4 822.4 236.6 810.4 236.2 810.4 229.3 822.4 229 832.4 228.2 832.8 228.1 833 226.8 822.4 225.9 810.4 225.6 810.4 218.8 822.4 218.5 832.4 217.8 834.2 217.6 834.4 216.2 824.4 215.4 810.4 215 810.4 208.3 822.4 208 832.4 207.4 835.9 207 836.1 205.7 826.4 204.8 810.4 204.4 810.4 199.1 811.1 197.7 826.4 197.4 838 196.4 838.3 195.1 826.4 194.1 810.4 193.7 810.4 188.5 816.2 188.5 817 187.2 830.4 186.8 840.9 185.9 841.2 184.5 830.4 183.5 810.4 183.1 810.4 178 822.6 177.9 823.4 176.6 834.4 176.2 844 175.3 844.3 174 832.4 172.9 810.4 172.5 810.4 167.5 828.9 167.4 829.7 166 840.4 165.5 847.4 164.7 847.4 163.4 842.4 162.7 834.4 162.2 810.4 161.8 810.4 156.9 834.6 156.8 835.3 155.5 844.4 154.9 850.4 154.2 850.3 152.8 842.4 151.8 830.4 151.3 810.4 151.2 810.4 146.4 839.4 146.2 839.9 144.9 846.4 144.5 853.2 143.6 852.9 142.3 842.4 141 830.4 140.6 810.4 140.7 810.4 135.8 843.4 135.7 843.9 134.3 855.6 133 855.2 131.7 850.4 130.9 844.4 130.3 832.4 129.9 810.4 130.1 810.4 125.3 834.4 125.4 846.9 125.1 847.3 123.8 857.8 122.5 857.2 121.1 852.4 120.3 846.4 119.6 834.4 119.3 810.4 119.5 810.4 114.7 836.4 114.9 850 114.5 850.4 113.2 859.8 111.9 859.2 110.6 858.5 110.4 852.4 109.4 846.4 108.9 834.4 108.6 810.4 108.9 810.4 104.2 838.4 104.4 850.4 104.1 852.9 104 853.2 102.6 861.6 101.3 860.9 100 858.5 99.4 854 98.7 848.4 98.2 836.4 98 810.4 98.4 810.4 93.6 840.4 93.9 852.4 93.6 854.9 93.4 855.1 92.1 862.9 90.8 861.9 89.4 860.5 89 855.5 88.1 850.4 87.7 838.4 87.4 810.4 87.8 810.4 83.1 840.4 83.3 852.4 83 855.4 82.8 855.5 81.5 862.8 80.2 861.4 78.9 860.5 78.6 854.6 77.5 850.4 77.2 838.4 76.9 810.4 77.2 810.4 72.5 838.4 72.7 850.4 72.4 853 72.3 853.1 70.9 860.5 69.6 858.5 68.3 854.5 67.5 848.4 66.8 836.4 66.5 810.4 66.7ZM810.4 390.6 810.4 389.5 829.4 390.6 827.2 391.9 810.4 392.7ZM810.4 401.1 810.4 400.5 818 401.1 817.2 402.5 810.4 402.9ZM810.4 411.7 810.4 411.4 813.1 411.7 812.6 413 810.4 413.2ZM810.4 843.6 811 843.6 811.4 844.9 810.4 846.3ZM810.4 854.2 810.4 853.9 814.1 854.2 814.4 855.5 813.2 856.8 810.4 856.8Z"/>
<path fill="#cfff30" d="M810.4 63 810.4 62.3 826.2 63 826.1 64.3 820.7 65.7 810.4 66.2ZM915.2 61.7 1232.9 61.7 1232.9 383.3 1152.8 384 1086.7 384.2 1032.7 383.8 984.6 382.9 941.2 381.3 906.5 379.1 888.8 377.4 873.8 374.7 863.3 373.4 857 372.1 854.5 371.9 840.4 371.5 810.4 371.9 810.4 368.3 832.4 368.4 844 368.1 843.7 366.8 851.8 365.5 850.5 364.2 837.6 362.8 832 361.5 810.4 361.4 810.4 357.6 828.5 357.6 831.6 356.2 838.4 355.8 844.9 354.9 844.4 353.6 840.4 353 829.5 352.3 820.4 351.1 810.4 350.9 810.4 347.1 824 347 827 345.7 834.4 345.3 842.1 344.3 841.8 343 838.4 342.6 818.4 341 810.4 340.8 810.4 336.5 821.3 336.4 822.8 335.1 832.4 334.6 839.7 333.8 839.3 332.5 836.4 332.1 810.4 330.6 810.4 325.9 818.1 325.9 817.8 324.5 828.4 324.1 837.1 323.2 836.8 321.9 834.4 321.6 826.4 320.9 810.4 320.3 810.4 315.3 814.5 315.3 814.2 314 826.4 313.5 835.4 312.6 835.3 311.3 832.4 311 824.4 310.3 810.4 309.9 810.4 304.7 812.9 304.7 812.8 303.4 824.4 303 832.4 302.4 835 302.1 835 300.8 824.4 299.8 810.4 299.3 810.4 294.2 814.8 294.2 815.3 292.8 826.4 292.5 836.4 291.5 836.7 290.2 826.4 289.2 810.4 288.6 810.4 283.7 820.2 283.6 821 282.3 830.4 281.9 838.4 281.1 839.4 280.9 839.8 279.6 830.4 278.6 810.4 277.9 810.4 273.2 827.1 273 828 271.7 836.4 271.2 843.3 270.4 843.9 269.1 838.4 268.3 826.4 267.4 810.4 267.2 810.4 262.7 834.2 262.5 834.9 261.1 847.3 259.8 847.7 258.5 842.4 257.6 830.4 256.6 810.4 256.5 810.4 252.1 839 251.9 839.5 250.6 850.1 249.2 850.4 247.9 844.4 246.9 832.4 245.8 810.4 245.9 810.4 241.6 830.4 241.7 842.4 241.3 842.8 240 852.4 238.7 852.7 237.4 848.4 236.5 836.4 235.2 826.4 235 810.4 235.3 810.4 231 834.4 231.2 846.1 230.8 846.6 229.4 855.1 228.1 855.5 226.8 844.4 224.8 838.4 224.3 828.4 224.3 810.4 224.8 810.4 220.5 836.4 220.7 850.4 220.2 851.1 218.9 858.4 217.6 858.9 216.2 850.4 214.3 844.4 213.5 832.4 213.5 810.4 214.2 810.4 210 840.4 210.4 852.4 210 855.8 209.6 856.6 208.3 862.6 207 863.3 205.7 854.6 203 848.4 202.4 838.4 202.4 810.4 203.6 810.4 199.4 842.4 200.1 854.5 199.9 862.4 199.1 863.4 197.7 868.2 196.4 869 195.1 864.3 192.5 860.2 191.1 862.2 189.8 870.6 188.5 871.7 187.2 875.4 185.9 876.4 184.5 875.1 183.2 873.7 180.6 875.2 179.2 879.7 177.9 880.9 176.6 883.6 175.3 884.6 174 884.3 172.6 884.7 170 885.9 168.7 888.8 167.4 889.9 166 892 164.7 893 163.4 893.2 162.1 894.1 159.4 895.2 158.1 897.2 156.8 898.2 155.5 899.8 154.2 900.6 152.8 902.1 148.9 903 147.5 904.5 146.2 907.3 142.3 908.7 138.3 912.4 133 914.4 127.7 917.5 122.5 919.4 117.2 922.5 110.6 923.6 106.6 925.7 101.3 927.3 93.4 927.8 89.4 927.4 82.8 926.5 78.9 922.1 69.6ZM810.4 73.6 810.4 72.9 825.4 73.6 825.3 74.9 820.4 76 810.4 76.7ZM810.4 84.2 810.4 83.4 825.1 84.2 825.1 85.5 818.8 86.8 810.4 87.3ZM810.4 94.7 810.4 94 825.2 94.7 825.2 96 818.4 97.4 810.4 97.8ZM810.4 105.3 810.4 104.6 825.5 105.3 825.6 106.6 818.1 107.9 810.4 108.4ZM810.4 115.9 810.4 115.1 826 115.9 826.1 117.2 817.9 118.5 810.4 118.9ZM810.4 126.4 810.4 125.7 826.5 126.4 826.6 127.7 817.8 129.1 810.4 129.5ZM810.4 137 810.4 136.2 827.3 137 827.4 138.3 817.6 139.6 810.4 140ZM810.4 147.5 810.4 146.8 828.2 147.5 828.3 148.9 817.7 150.2 810.4 150.6ZM810.4 158.1 810.4 157.3 829.5 158.1 829.7 159.4 817.9 160.8 810.4 161.2ZM810.4 168.7 810.4 167.8 831.5 168.7 831.8 170 820.4 171.2 810.4 171.8ZM810.4 179.2 810.4 178.4 834.6 179.2 835.1 180.6 822.4 181.7 810.4 182.4ZM810.4 189.8 810.4 188.9 840.2 189.8 841.4 191.1 810.4 193ZM810.4 380 810.4 379 831.2 380 829 381.3 810.4 382.2ZM810.4 390.6 810.4 389.9 818.4 390.6 817.4 391.9 810.4 392.3ZM810.4 401.1 812.1 401.1 811.6 402.5 810.4 402.5Z"/>
<path fill="#dfff20" d="M810.4 63 810.4 62.6 816.3 63 816.2 64.3 810.4 65.7ZM981.4 61.7 1232.9 61.7 1232.9 379.2 1124.8 379.5 1042.7 378.6 1006.6 377.6 976.6 376.2 952.6 374.5 930.5 372.4 912.5 369.8 900.5 367.2 879.9 360.2 877.4 358.9 877.8 357.6 876.4 356.2 876.8 354.9 875.7 353.6 872.4 352.3 870.9 350.9 865.7 349.6 864.5 348.3 868.4 347 867.8 345.7 869.8 344.3 869.2 343 865.6 341.7 864.1 340.4 856.2 339.1 854.8 337.7 858.5 337.3 862.4 336.4 861.8 335.1 864.6 333.8 864 332.5 859.4 331.1 857.4 329.8 850.4 329 842.4 328.7 810.4 329.5 810.4 326.3 838.4 326.9 848.4 326.8 856.3 325.9 855.6 324.5 859.7 323.2 859.2 321.9 853.6 320.6 850.9 319.2 848.4 319 836.4 318.5 810.4 319 810.4 315.7 834.4 316.1 846.4 315.8 851.4 315.3 851 314 856.4 312.6 856.1 311.3 849.9 310 846.4 308.6 834.4 308.2 810.4 308.5 810.4 305.1 836.4 305.4 848.4 304.8 849.3 304.7 849.3 303.4 855.5 302.1 855.6 300.8 849.8 299.4 846.9 298.1 842.4 297.8 832.4 297.6 810.4 298 810.4 294.6 836.4 294.9 848.4 294.5 851.6 294.2 852.2 292.8 858.1 291.5 858.7 290.2 854.5 288.9 852.8 287.6 846.4 286.8 836.4 286.7 810.4 287.4 810.4 284.1 838.4 284.7 850.4 284.5 858.1 283.6 859.1 282.3 863.9 280.9 864.8 279.6 862.3 278.3 861.8 277 857.2 275.7 859.2 274.3 866.7 273 867.9 271.7 871.4 270.4 872.4 269.1 871.2 267.7 871.4 266.4 870.1 265.1 871.3 263.8 875.5 262.5 876.4 261.1 878.9 259.8 879.8 258.5 879.1 257.2 879.3 255.9 878.7 254.5 879.6 253.2 882.2 251.9 882.9 250.6 884.7 249.2 885.3 247.9 884.9 246.6 885 245.3 884.6 244 885.3 242.6 887.3 241.3 887.9 240 889.4 238.7 890 237.4 889.8 236 890 233.4 890.7 232.1 892.4 230.8 893.1 229.4 894.5 228.1 895.2 226.8 896 222.8 896.8 221.5 898.3 220.2 900.4 217.6 903 212.3 903.9 210.9 907.7 207 911.4 201.7 921.5 191.1 950.3 164.7 958.3 156.8 968 146.2 974.5 138.3 983.8 125.1 991.4 111.9 993.9 106.6 995.8 101.3 997.2 96 997.8 92.1 997.9 88.1 997.4 84.2 996.2 80.2 994.4 76.2 991.9 72.3 989.8 69.6 986 65.7ZM810.4 73.6 810.4 73.2 815.9 73.6 815.9 74.9 810.4 76.2ZM810.4 84.2 810.4 83.8 815.8 84.2 815.8 85.5 810.4 86.7ZM810.4 94.7 810.4 94.4 815.9 94.7 815.9 96 810.4 97.2ZM810.4 105.3 810.4 104.9 816 105.3 816 106.6 810.4 107.7ZM810.4 115.9 810.4 115.5 816.2 115.9 816.2 117.2 810.4 118.2ZM810.4 126.4 810.4 126 816.5 126.4 816.5 127.7 810.4 128.8ZM810.4 137 810.4 136.6 816.8 137 816.8 138.3 810.4 139.3ZM810.4 147.5 810.4 147.1 817.2 147.5 817.2 148.9 810.4 149.9ZM810.4 158.1 810.4 157.7 817.6 158.1 817.7 159.4 810.4 160.4ZM810.4 168.7 810.4 168.2 818.3 168.7 818.4 170 810.4 171ZM810.4 179.2 810.4 178.7 819.2 179.2 819.4 180.6 810.4 181.6ZM810.4 189.8 810.4 189.3 820.3 189.8 820.4 191.1 810.4 192.2ZM810.4 200.4 810.4 199.8 821.5 200.4 821.6 201.7 810.4 202.8ZM810.4 210.9 810.4 210.3 822.5 210.9 822.7 212.3 810.4 213.4ZM810.4 221.5 810.4 220.9 823.6 221.5 823.7 222.8 810.4 223.9ZM810.4 232.1 810.4 231.4 824.6 232.1 824.8 233.4 810.4 234.5ZM810.4 242.6 810.4 242 825.7 242.6 825.8 244 810.4 245.1ZM810.4 253.2 810.4 252.5 826.7 253.2 826.9 254.5 810.4 255.6ZM810.4 263.8 810.4 263 829 263.8 829.4 265.1 810.4 266.2ZM810.4 274.3 810.4 273.5 834.1 274.3 835.1 275.7 810.4 276.8ZM810.4 337.7 810.4 336.9 836.9 337.7 836 339.1 810.4 340ZM810.4 348.3 810.4 347.5 832.4 348.3 832 349.6 810.4 350.5ZM810.4 358.9 810.4 358 829 358.9 828.5 360.2 810.4 361ZM810.4 369.4 810.4 368.7 824.4 369.4 823.8 370.8 810.4 371.5ZM810.4 380 810.4 379.4 818.6 380 817.8 381.3 810.4 381.8ZM810.4 390.6 812.1 390.6 811.5 391.9 810.4 392Z"/>
<path fill="#efff10" d="M1045.8 61.7 1232.9 61.7 1232.9 374.8 1134.8 374.6 1094.7 374.1 1058.7 373.1 1028.7 371.9 1000.6 370.1 978.6 368.1 958.8 365.5 945.2 362.8 935.2 360.2 924.9 356.2 917.9 352.3 912.5 348.3 903.9 339.1 899.7 332.5 894.9 327.2 894.6 325.9 893.8 324.5 893.5 323.2 892.7 321.9 889 317.9 888.4 316.6 888.8 315.3 888.2 314 888.5 312.6 888.1 311.3 885.3 307.4 885.2 306 886.3 304.7 886.3 303.4 887.2 302.1 887.4 300.8 886.9 299.4 886.9 298.1 886.6 296.8 887.1 295.5 888.8 294.2 889.5 292.8 890.9 291.5 891.7 290.2 891.9 288.9 893.2 286.2 894.3 284.9 898.8 280.9 902.9 275.7 908.7 270.4 919.6 258.5 926.5 249.2 936.5 233.4 941.8 225.5 949.9 214.9 959.6 204.3 971.1 193.8 982.4 184.5 1013 160.8 1029.8 146.2 1039.2 137 1046.4 129.1 1052.7 121.1 1058.1 113.2 1062.3 105.3 1064.7 98.7 1065.8 92.1 1065.6 88.1 1065.2 85.5 1063.9 81.5 1062.6 78.9 1059.1 73.6 1054.1 68.3ZM810.4 126.4 810.6 126.4 810.7 127.7 810.4 127.8ZM810.4 137 810.8 137 810.8 138.3 810.4 138.4ZM810.4 147.5 811.1 147.5 811.1 148.9 810.4 149ZM810.4 158.1 811.4 158.1 811.4 159.4 810.4 159.6ZM810.4 168.7 811.8 168.7 811.8 170 810.4 170.2ZM810.4 179.2 812.3 179.2 812.3 180.6 810.4 180.9ZM810.4 189.8 812.9 189.8 813 191.1 810.4 191.5ZM810.4 200.4 810.4 200.2 813.5 200.4 813.6 201.7 810.4 202.1ZM810.4 210.9 810.4 210.7 814.1 210.9 814.1 212.3 810.4 212.7ZM810.4 221.5 810.4 221.2 814.6 221.5 814.6 222.8 810.4 223.3ZM810.4 232.1 810.4 231.8 815.1 232.1 815.1 233.4 810.4 233.9ZM810.4 242.6 810.4 242.3 815.5 242.6 815.6 244 810.4 244.5ZM810.4 253.2 810.4 252.9 815.9 253.2 816 254.5 810.4 255.1ZM810.4 263.8 810.4 263.4 816.7 263.8 816.8 265.1 810.4 265.7ZM810.4 274.3 810.4 273.9 818 274.3 818.2 275.7 810.4 276.3ZM810.4 284.9 810.4 284.4 819.6 284.9 819.8 286.2 810.4 286.9ZM810.4 295.5 810.4 294.9 821.1 295.5 821.3 296.8 810.4 297.5ZM810.4 306 810.4 305.5 821.6 306 821.6 307.4 810.4 308.1ZM810.4 316.6 810.4 316.1 820.9 316.6 820.8 317.9 810.4 318.6ZM810.4 327.2 810.4 326.7 819.7 327.2 819.6 328.5 810.4 329.1ZM810.4 337.7 810.4 337.3 818.5 337.7 818.4 339.1 810.4 339.6ZM810.4 348.3 810.4 347.9 817.7 348.3 817.6 349.6 810.4 350.1ZM810.4 358.9 810.4 358.5 816.8 358.9 816.7 360.2 810.4 360.6ZM810.4 369.4 810.4 369.1 815.1 369.4 814.8 370.8 810.4 371.1ZM810.4 380 812 380 811.5 381.3 810.4 381.4Z"/>
<path fill="#ffff00" d="M1108.4 61.7 1232.9 61.7 1232.9 370.2 1146.8 369.4 1110.8 368.6 1080.7 367.5 1052.7 365.9 1030.5 364.2 1010.6 361.9 994.6 359.4 982.6 356.9 971.4 353.6 961.7 349.6 954.6 345.6 945.9 339.1 938 331.1 934.6 327.2 929.7 320.6 927.3 316.6 926.1 314 924 307.4 923.8 303.4 924.2 300.8 925.6 295.5 929.6 288.9 932.8 284.9 939.1 278.3 956 262.5 963.7 254.5 969.5 247.9 986.7 226.8 996.6 215.9 1008.6 204.6 1022.3 193.8 1035.2 184.5 1071.9 159.4 1091.3 144.9 1100.7 137 1109.2 129.1 1116.7 121.1 1122 114.5 1127 106.6 1129.8 100 1131.1 93.4 1131 89.4 1130.6 86.8 1129.3 82.8 1128 80.2 1125.4 76.2 1123.2 73.6 1116 67ZM810.4 274.3 811.3 274.3 811.4 275.7 810.4 275.8ZM810.4 284.9 812.2 284.9 812.3 286.2 810.4 286.4ZM810.4 295.5 813 295.5 813 296.8 810.4 297ZM810.4 306 813.2 306 813.2 307.4 810.4 307.6ZM810.4 316.6 812.9 316.6 812.8 317.9 810.4 318.1ZM810.4 327.2 812.2 327.2 812.1 328.5 810.4 328.6ZM810.4 337.7 811.6 337.7 811.5 339.1 810.4 339.1ZM810.4 348.3 811.1 348.3 811.1 349.6 810.4 349.7ZM810.4 358.9 810.6 358.9 810.4 360.2Z"/>
<path fill="#ffef00" d="M1169.4 61.7 1232.9 61.7 1232.9 365.1 1176.8 364.3 1130.2 362.8 1090.7 360.6 1060.7 357.9 1036.7 354.5 1025.4 352.3 1016.6 350.1 1008.6 347.6 1000.6 344.5 994.6 341.6 988 337.7 980.8 332.5 973.5 325.9 967.9 319.2 964.7 314 963 310 962.3 307.4 962 302.1 963.1 296.8 965.8 291.5 969.7 286.2 976 279.6 1002.8 255.9 1011 247.9 1034.3 224.2 1042.7 216.4 1050.7 209.6 1062.9 200.4 1076.4 191.1 1127.4 159.4 1149.2 144.9 1159.9 137 1168.1 130.4 1175.4 123.8 1181.8 117.2 1188 109.2 1190.3 105.3 1192.1 101.3 1193.4 97.4 1193.8 94.7 1193.9 90.8 1193.6 88.1 1192.4 84.2 1191.2 81.5 1188.6 77.5 1186.4 74.9 1182.4 70.9 1179.2 68.3Z"/>
<path fill="#ffdf00" d="M1228.7 61.7 1232.9 61.7 1232.9 64.2ZM1232.3 125.1 1232.9 124.6 1232.9 359.6 1180.8 358.1 1138.8 356 1102.7 352.9 1087.4 350.9 1074.7 348.9 1064.7 346.9 1054.1 344.3 1044.7 341.5 1035.1 337.7 1027.1 333.8 1020.6 329.8 1013.7 324.5 1008.2 319.2 1004.2 314 1001.7 308.7 1000.7 303.4 1001.2 298.1 1003.4 292.8 1006.9 287.6 1011.6 282.3 1018.7 275.7 1045.7 253.2 1078.7 224.2 1088.5 216.2 1099.2 208.3 1112.8 199.2 1126.8 190.5 1181 159.4 1200.8 147.5 1218.6 135.7Z"/>
<path fill="#ffcf00" d="M1232.8 159.4 1232.9 353.4 1190.9 351.5 1156.8 349 1127.4 345.7 1104.3 341.7 1093 339.1 1083.8 336.4 1074.7 333.2 1066.9 329.8 1059.6 325.9 1053.6 321.9 1048.9 317.9 1045.3 314 1042.6 310 1041.4 307.4 1040.6 304.7 1040.3 302.1 1040.3 299.4 1041.8 294.2 1044.7 288.9 1049 283.6 1054.3 278.3 1061.9 271.7 1116.8 228.2 1129.4 218.9 1142.8 209.7 1157.7 200.4 1173.7 191.1Z"/>
<path fill="#ffbf00" d="M1230.6 185.9 1232.9 184.7 1232.9 346.2 1202.9 344.1 1176.8 341.5 1152.8 338 1134.8 334.4 1118.4 329.8 1111.1 327.2 1104.9 324.5 1098.7 321.3 1093.3 317.9 1089.9 315.3 1085.9 311.3 1083.1 307.4 1081.4 303.4 1080.9 299.4 1081.1 296.8 1081.7 294.2 1083.5 290.2 1087.1 284.9 1091.9 279.6 1097.6 274.3 1109 265.1 1132.8 247.2 1152.8 232.5 1168.8 221.5 1182.8 212.5 1196.4 204.3 1212.9 195.2Z"/>
<path fill="#ffaf00" d="M1231.1 209.6 1232.9 208.6 1232.9 337.7 1212.9 335.5 1194.9 332.9 1178.4 329.8 1164.8 326.5 1152.8 322.7 1141.5 317.9 1134.6 314 1131 311.3 1128.1 308.7 1125.9 306 1123.7 302.1 1122.8 298.1 1122.9 294.2 1124.2 290.2 1126.3 286.2 1129.2 282.3 1134.1 277 1141.5 270.4 1149.8 263.8 1179 242.6 1204.9 225.4Z"/>
<path fill="#ff9f00" d="M1231.2 234.7 1232.9 233.7 1232.9 326.8 1212.9 322.9 1203.9 320.6 1195.4 317.9 1188.4 315.3 1182.6 312.6 1177.8 310 1174 307.4 1171.1 304.7 1168.8 302.1 1167.3 299.4 1166.1 295.5 1166 292.8 1166.8 288.9 1168.6 284.9 1171.2 280.9 1174.6 277 1178.5 273 1191.1 262.5 1209.4 249.2Z"/>
<path fill="#ff8f00" d="M1231.5 262.5 1232.9 261.4 1232.9 310.5 1223.4 306 1219.3 303.4 1216.1 300.8 1213.7 298.1 1212.1 295.5 1211.2 292.8 1210.8 290.2 1211 287.6 1211.8 284.9 1212.9 282.3 1215.4 278.3 1218.6 274.3 1222.4 270.4Z"/></g>
<g shape-rendering="crispEdges"><rect x="570.5" y="846.46" width="33.8" height="10.84" fill="#0000bf"/><rect x="570.5" y="832.45" width="33.8" height="14.51" fill="#0000cf"/><rect x="570.5" y="818.44" width="33.8" height="14.51" fill="#0000df"/><rect x="570.5" y="804.42" width="33.8" height="14.51" fill="#0000ef"/><rect x="570.5" y="790.41" width="33.8" height="14.51" fill="#0000ff"/><rect x="570.5" y="776.40" width="33.8" height="14.51" fill="#0010ff"/><rect x="570.5" y="762.38" width="33.8" height="14.51" fill="#0020ff"/><rect x="570.5" y="748.37" width="33.8" height="14.51" fill="#0030ff"/><rect x="570.5" y="734.35" width="33.8" height="14.51" fill="#0040ff"/><rect x="570.5" y="720.34" width="33.8" height="14.51" fill="#0050ff"/><rect x="570.5" y="706.33" width="33.8" height="14.51" fill="#0060ff"/><rect x="570.5" y="692.31" width="33.8" height="14.51" fill="#0070ff"/><rect x="570.5" y="678.30" width="33.8" height="14.51" fill="#0080ff"/><rect x="570.5" y="664.29" width="33.8" height="14.51" fill="#008fff"/><rect x="570.5" y="650.27" width="33.8" height="14.51" fill="#009fff"/><rect x="570.5" y="636.26" width="33.8" height="14.51" fill="#00afff"/><rect x="570.5" y="622.25" width="33.8" height="14.51" fill="#00bfff"/><rect x="570.5" y="608.23" width="33.8" height="14.51" fill="#00cfff"/><rect x="570.5" y="594.22" width="33.8" height="14.51" fill="#00dfff"/><rect x="570.5" y="580.20" width="33.8" height="14.51" fill="#00efff"/><rect x="570.5" y="566.19" width="33.8" height="14.51" fill="#00ffff"/><rect x="570.5" y="552.18" width="33.8" height="14.51" fill="#10ffef"/><rect x="570.5" y="538.16" width="33.8" height="14.51" fill="#20ffdf"/><rect x="570.5" y="524.15" width="33.8" height="14.51" fill="#30ffcf"/><rect x="570.5" y="510.14" width="33.8" height="14.51" fill="#40ffbf"/><rect x="570.5" y="496.12" width="33.8" height="14.51" fill="#50ffaf"/><rect x="570.5" y="482.11" width="33.8" height="14.51" fill="#60ff9f"/><rect x="570.5" y="468.10" width="33.8" height="14.51" fill="#70ff8f"/><rect x="570.5" y="454.08" width="33.8" height="14.51" fill="#80ff80"/><rect x="570.5" y="440.07" width="33.8" height="14.51" fill="#8fff70"/><rect x="570.5" y="426.05" width="33.8" height="14.51" fill="#9fff60"/><rect x="570.5" y="412.04" width="33.8" height="14.51" fill="#afff50"/><rect x="570.5" y="398.03" width="33.8" height="14.51" fill="#bfff40"/><rect x="570.5" y="384.01" width="33.8" height="14.51" fill="#cfff30"/><rect x="570.5" y="370.00" width="33.8" height="14.51" fill="#dfff20"/><rect x="570.5" y="355.99" width="33.8" height="14.51" fill="#efff10"/><rect x="570.5" y="341.97" width="33.8" height="14.51" fill="#ffff00"/><rect x="570.5" y="327.96" width="33.8" height="14.51" fill="#ffef00"/><rect x="570.5" y="313.95" width="33.8" height="14.51" fill="#ffdf00"/><rect x="570.5" y="299.93" width="33.8" height="14.51" fill="#ffcf00"/><rect x="570.5" y="285.92" width="33.8" height="14.51" fill="#ffbf00"/><rect x="570.5" y="271.90" width="33.8" height="14.51" fill="#ffaf00"/><rect x="570.5" y="257.89" width="33.8" height="14.51" fill="#ff9f00"/><rect x="570.5" y="243.88" width="33.8" height="14.51" fill="#ff8f00"/><rect x="570.5" y="229.86" width="33.8" height="14.51" fill="#ff8000"/><rect x="570.5" y="215.85" width="33.8" height="14.51" fill="#ff7000"/><rect x="570.5" y="201.84" width="33.8" height="14.51" fill="#ff6000"/><rect x="570.5" y="187.82" width="33.8" height="14.51" fill="#ff5000"/><rect x="570.5" y="173.81" width="33.8" height="14.51" fill="#ff4000"/><rect x="570.5" y="159.80" width="33.8" height="14.51" fill="#ff3000"/><rect x="570.5" y="145.78" width="33.8" height="14.51" fill="#ff2000"/><rect x="570.5" y="131.77" width="33.8" height="14.51" fill="#ff1000"/><rect x="570.5" y="117.75" width="33.8" height="14.51" fill="#ff0000"/><rect x="570.5" y="103.74" width="33.8" height="14.51" fill="#ef0000"/><rect x="570.5" y="89.73" width="33.8" height="14.51" fill="#df0000"/><rect x="570.5" y="75.71" width="33.8" height="14.51" fill="#cf0000"/><rect x="570.5" y="61.70" width="33.8" height="14.51" fill="#bf0000"/><rect x="1248.4" y="850.48" width="36.9" height="6.82" fill="#0000df"/><rect x="1248.4" y="835.97" width="36.9" height="15.00" fill="#0000ef"/><rect x="1248.4" y="821.47" width="36.9" height="15.00" fill="#0000ff"/><rect x="1248.4" y="806.96" width="36.9" height="15.00" fill="#0010ff"/><rect x="1248.4" y="792.46" width="36.9" height="15.00" fill="#0020ff"/><rect x="1248.4" y="777.95" width="36.9" height="15.00" fill="#0030ff"/><rect x="1248.4" y="763.45" width="36.9" height="15.00" fill="#0040ff"/><rect x="1248.4" y="748.95" width="36.9" height="15.00" fill="#0050ff"/><rect x="1248.4" y="734.44" width="36.9" height="15.00" fill="#0060ff"/><rect x="1248.4" y="719.94" width="36.9" height="15.00" fill="#0070ff"/><rect x="1248.4" y="705.43" width="36.9" height="15.00" fill="#0080ff"/><rect x="1248.4" y="690.93" width="36.9" height="15.00" fill="#008fff"/><rect x="1248.4" y="676.42" width="36.9" height="15.00" fill="#009fff"/><rect x="1248.4" y="661.92" width="36.9" height="15.00" fill="#00afff"/><rect x="1248.4" y="647.42" width="36.9" height="15.00" fill="#00bfff"/><rect x="1248.4" y="632.91" width="36.9" height="15.00" fill="#00cfff"/><rect x="1248.4" y="618.41" width="36.9" height="15.00" fill="#00dfff"/><rect x="1248.4" y="603.90" width="36.9" height="15.00" fill="#00efff"/><rect x="1248.4" y="589.40" width="36.9" height="15.00" fill="#00ffff"/><rect x="1248.4" y="574.89" width="36.9" height="15.00" fill="#10ffef"/><rect x="1248.4" y="560.39" width="36.9" height="15.00" fill="#20ffdf"/><rect x="1248.4" y="545.88" width="36.9" height="15.00" fill="#30ffcf"/><rect x="1248.4" y="531.38" width="36.9" height="15.00" fill="#40ffbf"/><rect x="1248.4" y="516.88" width="36.9" height="15.00" fill="#50ffaf"/><rect x="1248.4" y="502.37" width="36.9" height="15.00" fill="#60ff9f"/><rect x="1248.4" y="487.87" width="36.9" height="15.00" fill="#70ff8f"/><rect x="1248.4" y="473.36" width="36.9" height="15.00" fill="#80ff80"/><rect x="1248.4" y="458.86" width="36.9" height="15.00" fill="#8fff70"/><rect x="1248.4" y="444.35" width="36.9" height="15.00" fill="#9fff60"/><rect x="1248.4" y="429.85" width="36.9" height="15.00" fill="#afff50"/><rect x="1248.4" y="415.35" width="36.9" height="15.00" fill="#bfff40"/><rect x="1248.4" y="400.84" width="36.9" height="15.00" fill="#cfff30"/><rect x="1248.4" y="386.34" width="36.9" height="15.00" fill="#dfff20"/><rect x="1248.4" y="371.83" width="36.9" height="15.00" fill="#efff10"/><rect x="1248.4" y="357.33" width="36.9" height="15.00" fill="#ffff00"/><rect x="1248.4" y="342.82" width="36.9" height="15.00" fill="#ffef00"/><rect x="1248.4" y="328.32" width="36.9" height="15.00" fill="#ffdf00"/><rect x="1248.4" y="313.82" width="36.9" height="15.00" fill="#ffcf00"/><rect x="1248.4" y="299.31" width="36.9" height="15.00" fill="#ffbf00"/><rect x="1248.4" y="284.81" width="36.9" height="15.00" fill="#ffaf00"/><rect x="1248.4" y="270.30" width="36.9" height="15.00" fill="#ff9f00"/><rect x="1248.4" y="255.80" width="36.9" height="15.00" fill="#ff8f00"/><rect x="1248.4" y="241.29" width="36.9" height="15.00" fill="#ff8000"/><rect x="1248.4" y="226.79" width="36.9" height="15.00" fill="#ff7000"/><rect x="1248.4" y="212.28" width="36.9" height="15.00" fill="#ff6000"/><rect x="1248.4" y="197.78" width="36.9" height="15.00" fill="#ff5000"/><rect x="1248.4" y="183.28" width="36.9" height="15.00" fill="#ff4000"/><rect x="1248.4" y="168.77" width="36.9" height="15.00" fill="#ff3000"/><rect x="1248.4" y="154.27" width="36.9" height="15.00" fill="#ff2000"/><rect x="1248.4" y="139.76" width="36.9" height="15.00" fill="#ff1000"/><rect x="1248.4" y="125.26" width="36.9" height="15.00" fill="#ff0000"/><rect x="1248.4" y="110.75" width="36.9" height="15.00" fill="#ef0000"/><rect x="1248.4" y="96.25" width="36.9" height="15.00" fill="#df0000"/><rect x="1248.4" y="81.75" width="36.9" height="15.00" fill="#cf0000"/><rect x="1248.4" y="67.24" width="36.9" height="15.00" fill="#bf0000"/><rect x="1248.4" y="61.70" width="36.9" height="6.04" fill="#af0000"/></g>
<rect x="129.6" y="61.7" width="425.4" height="795.1" fill="none" stroke="#000" stroke-width="2.6"/><path d="M235.9 61.7 v9 M235.9 856.8 v-9" stroke="#000" stroke-width="2" fill="none"/><path d="M342.3 61.7 v9 M342.3 856.8 v-9" stroke="#000" stroke-width="2" fill="none"/><path d="M448.6 61.7 v9 M448.6 856.8 v-9" stroke="#000" stroke-width="2" fill="none"/><path d="M129.6 260.5 h9 M555 260.5 h-9" stroke="#000" stroke-width="2" fill="none"/><path d="M129.6 459.2 h9 M555 459.2 h-9" stroke="#000" stroke-width="2" fill="none"/><path d="M129.6 658.0 h9 M555 658.0 h-9" stroke="#000" stroke-width="2" fill="none"/><rect x="810.4" y="61.7" width="422.5" height="795.1" fill="none" stroke="#000" stroke-width="2.6"/><path d="M916.0 61.7 v9 M916.0 856.8 v-9" stroke="#000" stroke-width="2" fill="none"/><path d="M1021.7 61.7 v9 M1021.7 856.8 v-9" stroke="#000" stroke-width="2" fill="none"/><path d="M1127.3 61.7 v9 M1127.3 856.8 v-9" stroke="#000" stroke-width="2" fill="none"/><path d="M810.4 260.5 h9 M1232.9 260.5 h-9" stroke="#000" stroke-width="2" fill="none"/><path d="M810.4 459.2 h9 M1232.9 459.2 h-9" stroke="#000" stroke-width="2" fill="none"/><path d="M810.4 658.0 h9 M1232.9 658.0 h-9" stroke="#000" stroke-width="2" fill="none"/><rect x="570.5" y="61.7" width="33.8" height="795.1" fill="none" stroke="#000" stroke-width="2.6"/><path d="M604.3 260.5 h-9" stroke="#000" stroke-width="2" fill="none"/><path d="M604.3 459.2 h-9" stroke="#000" stroke-width="2" fill="none"/><path d="M604.3 658.0 h-9" stroke="#000" stroke-width="2" fill="none"/><rect x="1248.4" y="61.7" width="36.9" height="795.1" fill="none" stroke="#000" stroke-width="2.6"/><path d="M1285.3 260.5 h-9" stroke="#000" stroke-width="2" fill="none"/><path d="M1285.3 459.2 h-9" stroke="#000" stroke-width="2" fill="none"/><path d="M1285.3 658.0 h-9" stroke="#000" stroke-width="2" fill="none"/>
<text transform="translate(115.3,77.4) scale(1,1.05)" font-size="40" text-anchor="end">1.0</text>
<text transform="translate(115.3,276.2) scale(1,1.05)" font-size="40" text-anchor="end">0.5</text>
<text transform="translate(115.3,474.9) scale(1,1.05)" font-size="40" text-anchor="end">0.0</text>
<text transform="translate(112.7,673.7) scale(1,1.05)" font-size="40" text-anchor="end">-0.5</text>
<text transform="translate(112.7,872.2) scale(1,1.05)" font-size="40" text-anchor="end">-1.0</text>
<text transform="translate(796.2,77.4) scale(1,1.05)" font-size="40" text-anchor="end">1.0</text>
<text transform="translate(796.2,276.2) scale(1,1.05)" font-size="40" text-anchor="end">0.5</text>
<text transform="translate(796.2,474.9) scale(1,1.05)" font-size="40" text-anchor="end">0.0</text>
<text transform="translate(793.6,673.7) scale(1,1.05)" font-size="40" text-anchor="end">-0.5</text>
<text transform="translate(793.6,872.2) scale(1,1.05)" font-size="40" text-anchor="end">-1.0</text>
<text transform="translate(128.6,912.5) scale(1,1.05)" font-size="40" text-anchor="middle">100</text>
<text transform="translate(234.9,912.5) scale(1,1.05)" font-size="40" text-anchor="middle">200</text>
<text transform="translate(341.3,912.5) scale(1,1.05)" font-size="40" text-anchor="middle">300</text>
<text transform="translate(447.6,912.5) scale(1,1.05)" font-size="40" text-anchor="middle">400</text>
<text transform="translate(554,912.5) scale(1,1.05)" font-size="40" text-anchor="middle">500</text>
<text transform="translate(810.7,912.5) scale(1,1.05)" font-size="40" text-anchor="middle">100</text>
<text transform="translate(916.3,912.5) scale(1,1.05)" font-size="40" text-anchor="middle">200</text>
<text transform="translate(1021.9,912.5) scale(1,1.05)" font-size="40" text-anchor="middle">300</text>
<text transform="translate(1127.6,912.5) scale(1,1.05)" font-size="40" text-anchor="middle">400</text>
<text transform="translate(1233.2,912.5) scale(1,1.05)" font-size="40" text-anchor="middle">500</text>
<text transform="translate(341.6,976.2) scale(1,1.05)" font-size="40" text-anchor="middle">T (K)</text>
<text transform="translate(1023,976.2) scale(1,1.05)" font-size="40" text-anchor="middle">T (K)</text>
<text transform="translate(349,38) scale(1,1)" font-size="40" text-anchor="middle">(a) Thiol</text>
<text transform="translate(1027.5,38) scale(1,1)" font-size="40" text-anchor="middle">(b) Isocyanide</text>
<text transform="translate(620.5,77.4) scale(1,1.05)" font-size="40" text-anchor="start">100</text>
<text transform="translate(620,276.2) scale(1,1.05)" font-size="40" text-anchor="start">50</text>
<text transform="translate(620,474.9) scale(1,1.05)" font-size="40" text-anchor="start">0</text>
<text transform="translate(620,673.7) scale(1,1.05)" font-size="40" text-anchor="start">-50</text>
<text transform="translate(620,872.2) scale(1,1.05)" font-size="40" text-anchor="start">-100</text>
<text transform="translate(1301.5,77.4) scale(1,1.05)" font-size="40" text-anchor="start">100</text>
<text transform="translate(1301,276.2) scale(1,1.05)" font-size="40" text-anchor="start">50</text>
<text transform="translate(1301,474.9) scale(1,1.05)" font-size="40" text-anchor="start">0</text>
<text transform="translate(1301,673.7) scale(1,1.05)" font-size="40" text-anchor="start">-50</text>
<text transform="translate(1301,872.2) scale(1,1.05)" font-size="40" text-anchor="start">-100</text>
<text font-size="40" text-anchor="middle" transform="translate(35,456.4) rotate(-90)"><tspan font-style="italic">μ</tspan> (eV)</text>
<text font-size="40" text-anchor="middle" transform="translate(1403,462.5) rotate(-90)">S (<tspan font-style="italic">μ</tspan>V/K)</text>
</svg></body></html>
